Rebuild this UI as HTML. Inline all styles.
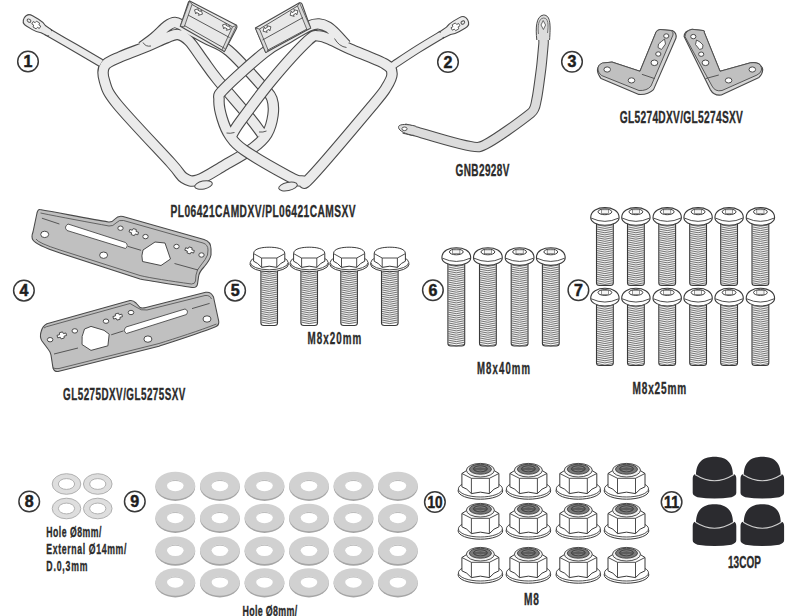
<!DOCTYPE html>
<html><head><meta charset="utf-8">
<style>
html,body{margin:0;padding:0;background:#fff;width:800px;height:616px;overflow:hidden}
svg{display:block}
.lb{font-family:"Liberation Sans",sans-serif;font-weight:bold;fill:#2b2b2b;stroke:#2b2b2b;stroke-width:0.35}
.num{font-family:"Liberation Sans",sans-serif;font-weight:bold;fill:#1e1e1e;stroke:#1e1e1e;stroke-width:0.5;font-size:16px;text-anchor:middle}
.cir{fill:#fff;stroke:#3a3a3a;stroke-width:1.5}
</style></head><body>
<svg width="800" height="616" viewBox="0 0 800 616">
<path d="M46.0,31.0 C50.8,33.8 65.8,42.5 75.0,47.8 C84.2,53.1 96.7,60.5 101.0,63.0" fill="none" stroke="#4a4a4a" stroke-width="8.5" stroke-linecap="butt" stroke-linejoin="round"/>
<path d="M142.0,47.0 C144.2,45.3 150.8,40.5 155.0,37.0 C159.2,33.5 163.7,28.4 167.0,26.0 C170.3,23.6 172.2,22.4 175.0,22.5 C177.8,22.6 179.0,23.9 184.0,26.5 C189.0,29.1 197.5,33.9 205.0,38.0 C212.5,42.1 219.2,42.7 229.0,51.0 C238.8,59.3 256.8,80.0 264.0,88.0 C271.2,96.0 270.5,94.5 272.0,99.0 C273.5,103.5 273.8,109.2 273.0,115.0 C272.2,120.8 270.3,128.5 267.0,134.0 C263.7,139.5 260.0,142.8 253.0,148.0 C246.0,153.2 234.2,159.7 225.0,165.0 C215.8,170.3 204.8,177.8 198.0,180.0 C191.2,182.2 188.5,180.8 184.0,178.0 C179.5,175.2 182.2,175.3 171.0,163.0 C159.8,150.7 128.1,117.7 117.0,104.0 C105.9,90.3 106.5,87.4 104.5,81.0 C102.5,74.6 102.2,69.6 105.0,65.5 C107.8,61.4 113.8,59.8 121.0,56.5 C128.2,53.2 140.5,49.1 148.0,46.0 C155.5,42.9 161.0,39.9 166.0,38.0 C171.0,36.1 174.2,34.0 178.0,34.5 C181.8,35.0 184.8,36.8 189.0,41.0 C193.2,45.2 198.3,53.7 203.0,60.0 C207.7,66.3 209.2,69.3 217.0,79.0 C224.8,88.7 242.5,108.8 250.0,118.0 C257.5,127.2 260.0,131.3 262.0,134.0" fill="none" stroke="#4a4a4a" stroke-width="11.5" stroke-linecap="butt" stroke-linejoin="round"/>
<path d="M46.0,31.0 C50.8,33.8 65.8,42.5 75.0,47.8 C84.2,53.1 96.7,60.5 101.0,63.0" fill="none" stroke="#ebebeb" stroke-width="6.3" stroke-linecap="butt" stroke-linejoin="round"/>
<path d="M142.0,47.0 C144.2,45.3 150.8,40.5 155.0,37.0 C159.2,33.5 163.7,28.4 167.0,26.0 C170.3,23.6 172.2,22.4 175.0,22.5 C177.8,22.6 179.0,23.9 184.0,26.5 C189.0,29.1 197.5,33.9 205.0,38.0 C212.5,42.1 219.2,42.7 229.0,51.0 C238.8,59.3 256.8,80.0 264.0,88.0 C271.2,96.0 270.5,94.5 272.0,99.0 C273.5,103.5 273.8,109.2 273.0,115.0 C272.2,120.8 270.3,128.5 267.0,134.0 C263.7,139.5 260.0,142.8 253.0,148.0 C246.0,153.2 234.2,159.7 225.0,165.0 C215.8,170.3 204.8,177.8 198.0,180.0 C191.2,182.2 188.5,180.8 184.0,178.0 C179.5,175.2 182.2,175.3 171.0,163.0 C159.8,150.7 128.1,117.7 117.0,104.0 C105.9,90.3 106.5,87.4 104.5,81.0 C102.5,74.6 102.2,69.6 105.0,65.5 C107.8,61.4 113.8,59.8 121.0,56.5 C128.2,53.2 140.5,49.1 148.0,46.0 C155.5,42.9 161.0,39.9 166.0,38.0 C171.0,36.1 174.2,34.0 178.0,34.5 C181.8,35.0 184.8,36.8 189.0,41.0 C193.2,45.2 198.3,53.7 203.0,60.0 C207.7,66.3 209.2,69.3 217.0,79.0 C224.8,88.7 242.5,108.8 250.0,118.0 C257.5,127.2 260.0,131.3 262.0,134.0" fill="none" stroke="#ebebeb" stroke-width="9.3" stroke-linecap="butt" stroke-linejoin="round"/>
<g transform="translate(36.3,25) rotate(211)"><path d="M-16,-3.6 L-8,-4.2 Q-4,-6 1,-6 L8,-6 Q14,-6 14,0 Q14,6 8,6 L1,6 Q-4,6 -8,4.2 L-16,3.6 Z" fill="#ebebeb" stroke="#4a4a4a" stroke-width="1.1" stroke-linejoin="round"/><path d="M-17,-2.5 L-7,-2.5 L-7,2.5 L-17,2.5 Z" fill="#ebebeb"/><ellipse cx="8.5" cy="0" rx="2" ry="1.5" fill="none" stroke="#4a4a4a" stroke-width="0.9"/><path d="M-1.8,-3.4 L1.8,-3.4 L2.2,-1.4 L4.4,-1.4 L4.4,1.4 L2.2,1.4 L1.8,3.4 L-1.8,3.4 L-2.2,1.4 L-4.4,1.4 L-4.4,-1.4 L-2.2,-1.4 Z" fill="#fff" stroke="#4a4a4a" stroke-width="0.8" stroke-linejoin="round"/></g>
<ellipse cx="203.5" cy="185" rx="9" ry="4" transform="rotate(-12 203.5 185)" fill="#ebebeb" stroke="#4a4a4a" stroke-width="1"/>
<path d="M189.7,0.9 L236.6,25.3 Q237.5,27 236.5,28.5 L224.4,51.6 L180.3,26.3 L188.5,2 Z" fill="#e8e8e8" stroke="#4a4a4a" stroke-width="1.1" stroke-linejoin="round"/>
<path d="M189.7,0.9 L180.3,26.3 L184.3,26.8 L192,4.5 Z" fill="#d9d9d9" stroke="#4a4a4a" stroke-width="0.8" stroke-linejoin="round"/>
<path d="M236.6,25.3 L224.4,51.6 L222,49.8 L232.5,26.8 Z" fill="#d9d9d9" stroke="#4a4a4a" stroke-width="0.8" stroke-linejoin="round"/>
<path d="M192,4.5 L232.5,26.8 M188,15 L229.5,37.5 M184.3,25.5 L224.8,48.5" fill="none" stroke="#4a4a4a" stroke-width="0.9"/>
<path d="M392.0,66.0 C396.3,63.2 409.7,54.2 418.0,49.0 C426.3,43.8 438.0,36.9 442.0,34.5" fill="none" stroke="#4a4a4a" stroke-width="8.5" stroke-linecap="butt" stroke-linejoin="round"/>
<path d="M346.0,45.0 C344.5,43.3 340.0,38.0 337.0,35.0 C334.0,32.0 331.0,28.8 328.0,27.0 C325.0,25.2 322.2,24.2 319.0,24.0 C315.8,23.8 314.2,23.7 309.0,26.0 C303.8,28.3 295.5,33.5 288.0,38.0 C280.5,42.5 274.7,44.5 264.0,53.0 C253.3,61.5 231.5,81.2 224.0,89.0 C216.5,96.8 219.3,95.2 219.0,100.0 C218.7,104.8 220.2,112.0 222.0,118.0 C223.8,124.0 226.3,130.7 230.0,136.0 C233.7,141.3 234.3,143.3 244.0,150.0 C253.7,156.7 278.3,170.8 288.0,176.0 C297.7,181.2 298.0,181.0 302.0,181.0 C306.0,181.0 300.3,188.5 312.0,176.0 C323.7,163.5 359.7,120.7 372.0,106.0 C384.3,91.3 382.7,93.3 386.0,88.0 C389.3,82.7 392.2,78.0 392.0,74.0 C391.8,70.0 392.0,68.2 385.0,64.0 C378.0,59.8 359.0,53.0 350.0,49.0 C341.0,45.0 336.2,42.2 331.0,40.0 C325.8,37.8 322.8,35.9 319.0,36.0 C315.2,36.1 315.8,33.2 308.0,40.5 C300.2,47.8 283.3,66.4 272.0,80.0 C260.7,93.6 246.7,112.8 240.0,122.0 C233.3,131.2 233.3,132.8 232.0,135.0" fill="none" stroke="#4a4a4a" stroke-width="11.5" stroke-linecap="butt" stroke-linejoin="round"/>
<path d="M392.0,66.0 C396.3,63.2 409.7,54.2 418.0,49.0 C426.3,43.8 438.0,36.9 442.0,34.5" fill="none" stroke="#ebebeb" stroke-width="6.3" stroke-linecap="butt" stroke-linejoin="round"/>
<path d="M346.0,45.0 C344.5,43.3 340.0,38.0 337.0,35.0 C334.0,32.0 331.0,28.8 328.0,27.0 C325.0,25.2 322.2,24.2 319.0,24.0 C315.8,23.8 314.2,23.7 309.0,26.0 C303.8,28.3 295.5,33.5 288.0,38.0 C280.5,42.5 274.7,44.5 264.0,53.0 C253.3,61.5 231.5,81.2 224.0,89.0 C216.5,96.8 219.3,95.2 219.0,100.0 C218.7,104.8 220.2,112.0 222.0,118.0 C223.8,124.0 226.3,130.7 230.0,136.0 C233.7,141.3 234.3,143.3 244.0,150.0 C253.7,156.7 278.3,170.8 288.0,176.0 C297.7,181.2 298.0,181.0 302.0,181.0 C306.0,181.0 300.3,188.5 312.0,176.0 C323.7,163.5 359.7,120.7 372.0,106.0 C384.3,91.3 382.7,93.3 386.0,88.0 C389.3,82.7 392.2,78.0 392.0,74.0 C391.8,70.0 392.0,68.2 385.0,64.0 C378.0,59.8 359.0,53.0 350.0,49.0 C341.0,45.0 336.2,42.2 331.0,40.0 C325.8,37.8 322.8,35.9 319.0,36.0 C315.2,36.1 315.8,33.2 308.0,40.5 C300.2,47.8 283.3,66.4 272.0,80.0 C260.7,93.6 246.7,112.8 240.0,122.0 C233.3,131.2 233.3,132.8 232.0,135.0" fill="none" stroke="#ebebeb" stroke-width="9.3" stroke-linecap="butt" stroke-linejoin="round"/>
<path d="M143,42.5 Q145.5,47 151,46 M334.5,38.5 Q339,46.5 346.5,47.5 M226.5,133 Q230,133.8 234.5,132.5 M259,132 Q263,132.5 266.5,131" fill="none" stroke="#4a4a4a" stroke-width="0.9"/>
<g transform="translate(455.5,26.8) rotate(-30)"><path d="M-16,-3.6 L-8,-4.2 Q-4,-6 1,-6 L8,-6 Q14,-6 14,0 Q14,6 8,6 L1,6 Q-4,6 -8,4.2 L-16,3.6 Z" fill="#ebebeb" stroke="#4a4a4a" stroke-width="1.1" stroke-linejoin="round"/><path d="M-17,-2.5 L-7,-2.5 L-7,2.5 L-17,2.5 Z" fill="#ebebeb"/><ellipse cx="8.5" cy="0" rx="2" ry="1.5" fill="none" stroke="#4a4a4a" stroke-width="0.9"/><path d="M-1.8,-3.4 L1.8,-3.4 L2.2,-1.4 L4.4,-1.4 L4.4,1.4 L2.2,1.4 L1.8,3.4 L-1.8,3.4 L-2.2,1.4 L-4.4,1.4 L-4.4,-1.4 L-2.2,-1.4 Z" fill="#fff" stroke="#4a4a4a" stroke-width="0.8" stroke-linejoin="round"/></g>
<ellipse cx="288" cy="186.5" rx="9.5" ry="4" transform="rotate(-12 288 186.5)" fill="#ebebeb" stroke="#4a4a4a" stroke-width="1"/>
<path d="M255.4,28.1 L299.5,2.8 Q301,2.5 302,4 L310.7,28.1 L265.7,52.5 Z" fill="#e8e8e8" stroke="#4a4a4a" stroke-width="1.1" stroke-linejoin="round"/>
<path d="M255.4,28.1 L265.7,52.5 L268.5,51 L259.5,29 Z" fill="#d9d9d9" stroke="#4a4a4a" stroke-width="0.8" stroke-linejoin="round"/>
<path d="M299.5,2.8 L310.7,28.1 L307,29.8 L297.5,6 Z" fill="#d9d9d9" stroke="#4a4a4a" stroke-width="0.8" stroke-linejoin="round"/>
<path d="M259.5,29 L297.5,6 M262.5,40 L303,17.5 M267,50.5 L307,29" fill="none" stroke="#4a4a4a" stroke-width="0.9"/>
<path transform="translate(198.5,12) rotate(28) scale(1.0)" d="M-4.5,0 L-1.5,-3 L-1.5,-1.3 L1.5,-1.3 L1.5,-3 L4.5,0 L1.5,3 L1.5,1.3 L-1.5,1.3 L-1.5,3 Z" fill="#fff" stroke="#4a4a4a" stroke-width="0.8" stroke-linejoin="round"/>
<path transform="translate(226.5,27) rotate(28) scale(1.0)" d="M-4.5,0 L-1.5,-3 L-1.5,-1.3 L1.5,-1.3 L1.5,-3 L4.5,0 L1.5,3 L1.5,1.3 L-1.5,1.3 L-1.5,3 Z" fill="#fff" stroke="#4a4a4a" stroke-width="0.8" stroke-linejoin="round"/>
<path transform="translate(267,29) rotate(-30) scale(1.0)" d="M-4.5,0 L-1.5,-3 L-1.5,-1.3 L1.5,-1.3 L1.5,-3 L4.5,0 L1.5,3 L1.5,1.3 L-1.5,1.3 L-1.5,3 Z" fill="#fff" stroke="#4a4a4a" stroke-width="0.8" stroke-linejoin="round"/>
<path transform="translate(294,13) rotate(-30) scale(1.0)" d="M-4.5,0 L-1.5,-3 L-1.5,-1.3 L1.5,-1.3 L1.5,-3 L4.5,0 L1.5,3 L1.5,1.3 L-1.5,1.3 L-1.5,3 Z" fill="#fff" stroke="#4a4a4a" stroke-width="0.8" stroke-linejoin="round"/>
<path d="M404.0,128.5 C405.0,128.8 409.8,130.0 416.0,131.5 C422.2,133.0 469.4,148.5 479.0,147.0 C488.6,145.5 526.2,116.9 531.0,113.0 C535.8,109.1 535.6,103.8 536.5,100.0 C537.4,96.2 540.6,72.7 541.2,68.0 C541.8,63.3 543.3,46.3 543.5,44.0 C543.7,41.7 543.5,40.3 543.5,40.0" fill="none" stroke="#4a4a4a" stroke-width="10.5" stroke-linejoin="round"/>
<path d="M404.0,128.5 C405.0,128.8 409.8,130.0 416.0,131.5 C422.2,133.0 469.4,148.5 479.0,147.0 C488.6,145.5 526.2,116.9 531.0,113.0 C535.8,109.1 535.6,103.8 536.5,100.0 C537.4,96.2 540.6,72.7 541.2,68.0 C541.8,63.3 543.3,46.3 543.5,44.0 C543.7,41.7 543.5,40.3 543.5,40.0" fill="none" stroke="#dcdcdc" stroke-width="8.4" stroke-linejoin="round"/>
<path d="M536.8,40 C535.5,28 536,16 543.5,15 C551,15 550.5,26 549.6,40 Z" fill="#dcdcdc"/>
<path d="M536.8,40 C535.5,28 536,16 543.5,15 C551,15 550.5,26 549.6,40" fill="none" stroke="#4a4a4a" stroke-width="1"/>
<path d="M538.5,34 C537.5,26 538.5,18.5 543.5,18 C548.5,18 548.5,25 547.5,33" fill="none" stroke="#4a4a4a" stroke-width="0.7"/>
<path d="M543.2,20.5 L545.6,25 L543.4,29.5 L541,25 Z" fill="#fff" stroke="#4a4a4a" stroke-width="0.8"/>
<path d="M416,126.3 C406,123.5 398,124 398.5,127.5 C399,131 406,134.5 414.5,135.5 Z" fill="#dcdcdc"/>
<path d="M416,126.3 C406,123.5 398,124 398.5,127.5 C399,131 406,134.5 414.5,135.5" fill="none" stroke="#4a4a4a" stroke-width="1"/>
<ellipse cx="404.5" cy="128.8" rx="2.6" ry="1.8" fill="#fff" stroke="#4a4a4a" stroke-width="0.9"/>
<path d="M602.3,63.4 Q598,65 597.4,70 Q597.5,74 601.1,78.6 L638.8,94.4 Q648,95 653.5,89.6 L676,38 Q677,33 672.3,30.5 L660,29.5 Q657,30 656,32.3 L640,71.3 L612,62.1 Z" fill="#d6d6d6" stroke="#4a4a4a" stroke-width="1.1" stroke-linejoin="round"/>
<path d="M602.3,63 Q597.5,65 598,70 Q598.5,73 601.5,75.5 L639,90.5 Q647,91 651,86 L673,35 Q674,32 671,30.5 L660,29.5 Q657,30 656,32.3 L640,71.3 L612,62.1 Z" fill="#c0c0c0" stroke="#4a4a4a" stroke-width="0.9" stroke-linejoin="round"/>
<path d="M641.9,74.3 L654.7,78.6" stroke="#4a4a4a" stroke-width="0.9"/>
<ellipse cx="607.2" cy="69.5" rx="3.3" ry="2.6" fill="#fff" stroke="#4a4a4a" stroke-width="1"/>
<ellipse cx="631.5" cy="80.4" rx="3.3" ry="2.6" fill="#fff" stroke="#4a4a4a" stroke-width="1"/>
<ellipse cx="654.4" cy="62.8" rx="3.4" ry="2.8" fill="#fff" stroke="#4a4a4a" stroke-width="1"/>
<ellipse cx="658.3" cy="54" rx="2.6" ry="2.2" fill="#fff" stroke="#4a4a4a" stroke-width="1"/>
<ellipse cx="666.3" cy="36" rx="2.6" ry="2.2" fill="#fff" stroke="#4a4a4a" stroke-width="1"/>
<path d="M664.5,39 L665.5,44 L661.5,49.5 L658,47.5 L658.5,44 L661.5,41.5 Z" fill="#fff" stroke="#4a4a4a" stroke-width="0.9"/>
<path d="M684.1,36.6 Q684,31 692,29.3 L703,30.5 Q705,31 704.2,32.3 L720,71.3 L750.5,62.8 Q758,62 760.3,65.2 Q763,68 762.7,70 Q762.5,74 759,77.4 L721.3,95 Q714,96 710.3,89.6 Z" fill="#d6d6d6" stroke="#4a4a4a" stroke-width="1.1" stroke-linejoin="round"/>
<path d="M685,36.6 Q685,31 692,29.3 L703,30.5 Q705,31 704.2,32.3 L720,71.3 L750.5,62.8 Q758,62 760.3,65.2 Q762,68 761.5,70 Q761,73 757,75 L722,90.5 Q715,92 712,86 Z" fill="#c0c0c0" stroke="#4a4a4a" stroke-width="0.9" stroke-linejoin="round"/>
<path d="M705.5,78.6 L718.8,75" stroke="#4a4a4a" stroke-width="0.9"/>
<ellipse cx="693.3" cy="36.6" rx="2.6" ry="2.2" fill="#fff" stroke="#4a4a4a" stroke-width="1"/>
<ellipse cx="701.2" cy="54.2" rx="2.6" ry="2.2" fill="#fff" stroke="#4a4a4a" stroke-width="1"/>
<ellipse cx="705.5" cy="62.8" rx="3.4" ry="2.8" fill="#fff" stroke="#4a4a4a" stroke-width="1"/>
<ellipse cx="728.6" cy="80.4" rx="3.3" ry="2.6" fill="#fff" stroke="#4a4a4a" stroke-width="1"/>
<ellipse cx="752.3" cy="69.5" rx="3.3" ry="2.6" fill="#fff" stroke="#4a4a4a" stroke-width="1"/>
<path d="M696.5,40 L700,42 L703,45 L702.5,48.5 L699.5,49.5 L695.5,44.5 Z" fill="#fff" stroke="#4a4a4a" stroke-width="0.9"/>
<path d="M40,209.5 C60,213 90,219 108.5,222 Q112,222.5 115,219 Q118,215.5 123,216.5 L204,239.5 Q211,241.5 211,249 L211,255 Q210,260 204,267 Q199,272 198.5,277 L197.5,284 Q197,288 192,287.5 C170,284 150,281 140,279 L60,253 Q36,245 33,240 Q31,237 33,232 L37,213 Q38,209 40,209.5 Z" fill="#c0c0c0" stroke="#4a4a4a" stroke-width="1.1" stroke-linejoin="round"/>
<path d="M40.5,213 C60,217 90,222.5 109,226 Q113,226.5 116,223 Q119,219.5 123.5,220.5 L203,243 Q208,244.5 208,250 L207.5,255 Q206,259 201,265 Q196.5,270 196,275 L195.5,281 Q195,284 191.5,284 C170,281 150,278 140,275.5 L60,250 Q38,243 36,239" fill="none" stroke="#4a4a4a" stroke-width="0.8"/>
<path d="M41.9,218.2 L59.4,224 M174.5,263.5 L198,270 M128,246.4 L141,250.3" stroke="#4a4a4a" stroke-width="0.9"/>
<path d="M68,224 L125.5,242.5 Q129,245.5 125.5,248.5 L67,230.5 Q63.5,227 68,224 Z" fill="#fff" stroke="#4a4a4a" stroke-width="0.9"/>
<ellipse cx="44.7" cy="234.4" rx="4" ry="3.2" fill="#fff" stroke="#4a4a4a" stroke-width="1"/>
<ellipse cx="103.6" cy="255.2" rx="4" ry="3.2" fill="#fff" stroke="#4a4a4a" stroke-width="1"/>
<ellipse cx="120.5" cy="228.2" rx="2.7" ry="2.2" fill="#fff" stroke="#4a4a4a" stroke-width="1"/>
<ellipse cx="145.5" cy="236.6" rx="2.7" ry="2.2" fill="#fff" stroke="#4a4a4a" stroke-width="1"/>
<ellipse cx="176.5" cy="246.5" rx="2.7" ry="2.2" fill="#fff" stroke="#4a4a4a" stroke-width="1"/>
<ellipse cx="201.5" cy="255" rx="2.7" ry="2.2" fill="#fff" stroke="#4a4a4a" stroke-width="1"/>
<path transform="translate(133.8,232.1) rotate(18)" d="M-1.6,-3.2 L1.6,-3.2 L2,-1.3 L4.6,-1.3 L4.6,1.3 L2,1.3 L1.6,3.2 L-1.6,3.2 L-2,1.3 L-4.6,1.3 L-4.6,-1.3 L-2,-1.3 Z" fill="#fff" stroke="#4a4a4a" stroke-width="0.9" stroke-linejoin="round"/>
<path transform="translate(189.6,250.4) rotate(18)" d="M-1.6,-3.2 L1.6,-3.2 L2,-1.3 L4.6,-1.3 L4.6,1.3 L2,1.3 L1.6,3.2 L-1.6,3.2 L-2,1.3 L-4.6,1.3 L-4.6,-1.3 L-2,-1.3 Z" fill="#fff" stroke="#4a4a4a" stroke-width="0.9" stroke-linejoin="round"/>
<path d="M143,250 L155,242 L165,243 L170.5,259 L161,265.5 L142.5,261.5 Q141,256 143,250 Z" fill="#fff" stroke="#4a4a4a" stroke-width="1" stroke-linejoin="round"/>
<path d="M46.9,323.8 L130,300.5 Q133,300 136,303 L140,307.5 Q142,308.5 146,307.5 L205.7,292.3 Q211,291.5 213.5,297 L218.7,321 Q219.5,325.5 215,327 C200,333 175,341 159,346.2 L58,371.5 Q54.5,372 53,368 L51,355 Q50.5,352 48,349 L42,341 Q39.5,337 41,332 Q42.5,326 46.9,323.8 Z" fill="#c0c0c0" stroke="#4a4a4a" stroke-width="1.1" stroke-linejoin="round"/>
<path d="M44,328 Q46,326.5 49,326 L130,303.5 L136,307 Q141,311 147,310 L205,295.5 Q210,295 211.5,299" fill="none" stroke="#4a4a4a" stroke-width="0.8"/>
<path d="M53,368 Q56,369 59,368.5 L159,343.5 C175,338.5 200,330.5 216.5,324" fill="none" stroke="#4a4a4a" stroke-width="0.8"/>
<path d="M54,354 L78,348 M111.2,334.8 L123.5,330.9 M192,308.6 L209.6,303.4" stroke="#4a4a4a" stroke-width="0.9"/>
<path d="M126,327 L185,309 Q189,310.5 186.5,314.5 L126.5,333.5 Q122.5,331 126,327 Z" fill="#fff" stroke="#4a4a4a" stroke-width="0.9"/>
<ellipse cx="147.9" cy="339.1" rx="4" ry="3.2" fill="#fff" stroke="#4a4a4a" stroke-width="1"/>
<ellipse cx="207" cy="319" rx="4" ry="3.2" fill="#fff" stroke="#4a4a4a" stroke-width="1"/>
<ellipse cx="50.1" cy="339.7" rx="2.8" ry="2.2" fill="#fff" stroke="#4a4a4a" stroke-width="1"/>
<ellipse cx="74.8" cy="330.9" rx="2.8" ry="2.2" fill="#fff" stroke="#4a4a4a" stroke-width="1"/>
<ellipse cx="106" cy="321.2" rx="2.8" ry="2.2" fill="#fff" stroke="#4a4a4a" stroke-width="1"/>
<ellipse cx="131" cy="312.5" rx="2.8" ry="2.2" fill="#fff" stroke="#4a4a4a" stroke-width="1"/>
<path transform="translate(61.8,335.4) rotate(-15)" d="M-1.6,-3.2 L1.6,-3.2 L2,-1.3 L4.6,-1.3 L4.6,1.3 L2,1.3 L1.6,3.2 L-1.6,3.2 L-2,1.3 L-4.6,1.3 L-4.6,-1.3 L-2,-1.3 Z" fill="#fff" stroke="#4a4a4a" stroke-width="0.9" stroke-linejoin="round"/>
<path transform="translate(117.7,316.6) rotate(-15)" d="M-1.6,-3.2 L1.6,-3.2 L2,-1.3 L4.6,-1.3 L4.6,1.3 L2,1.3 L1.6,3.2 L-1.6,3.2 L-2,1.3 L-4.6,1.3 L-4.6,-1.3 L-2,-1.3 Z" fill="#fff" stroke="#4a4a4a" stroke-width="0.9" stroke-linejoin="round"/>
<path d="M84.5,329 L91,326.4 L104,330.3 L109.2,334.2 L107.9,345.8 L91,350.4 L82,344.5 Q81,336 84.5,329 Z" fill="#fff" stroke="#4a4a4a" stroke-width="1" stroke-linejoin="round"/>
<ellipse cx="66.5" cy="484" rx="14.3" ry="10.3" fill="#dedede" stroke="#a9a9a9" stroke-width="0.9"/>
<ellipse cx="66.5" cy="484" rx="8.1" ry="5.4" fill="#fff" stroke="#a9a9a9" stroke-width="0.9"/>
<ellipse cx="66.5" cy="508.5" rx="14.3" ry="10.3" fill="#dedede" stroke="#a9a9a9" stroke-width="0.9"/>
<ellipse cx="66.5" cy="508.5" rx="8.1" ry="5.4" fill="#fff" stroke="#a9a9a9" stroke-width="0.9"/>
<ellipse cx="97.75" cy="484" rx="14.3" ry="10.3" fill="#dedede" stroke="#a9a9a9" stroke-width="0.9"/>
<ellipse cx="97.75" cy="484" rx="8.1" ry="5.4" fill="#fff" stroke="#a9a9a9" stroke-width="0.9"/>
<ellipse cx="97.75" cy="508.5" rx="14.3" ry="10.3" fill="#dedede" stroke="#a9a9a9" stroke-width="0.9"/>
<ellipse cx="97.75" cy="508.5" rx="8.1" ry="5.4" fill="#fff" stroke="#a9a9a9" stroke-width="0.9"/>
<ellipse cx="175.3" cy="486.8" rx="19.9" ry="14.1" fill="#a6a6a6"/>
<ellipse cx="175.3" cy="485.5" rx="19.9" ry="13.8" fill="#d1d1d1"/>
<ellipse cx="175.3" cy="485.5" rx="8.3" ry="5.8" fill="#fff"/>
<path d="M167.0,485.5 A8.3,5.8 0 0 1 183.60000000000002,485.5 A8.3,4.6 0 0 0 167.0,485.5Z" fill="#bdbdbd"/>
<ellipse cx="219.9" cy="486.8" rx="19.9" ry="14.1" fill="#a6a6a6"/>
<ellipse cx="219.9" cy="485.5" rx="19.9" ry="13.8" fill="#d1d1d1"/>
<ellipse cx="219.9" cy="485.5" rx="8.3" ry="5.8" fill="#fff"/>
<path d="M211.6,485.5 A8.3,5.8 0 0 1 228.20000000000002,485.5 A8.3,4.6 0 0 0 211.6,485.5Z" fill="#bdbdbd"/>
<ellipse cx="264.5" cy="486.8" rx="19.9" ry="14.1" fill="#a6a6a6"/>
<ellipse cx="264.5" cy="485.5" rx="19.9" ry="13.8" fill="#d1d1d1"/>
<ellipse cx="264.5" cy="485.5" rx="8.3" ry="5.8" fill="#fff"/>
<path d="M256.2,485.5 A8.3,5.8 0 0 1 272.8,485.5 A8.3,4.6 0 0 0 256.2,485.5Z" fill="#bdbdbd"/>
<ellipse cx="309.0" cy="486.8" rx="19.9" ry="14.1" fill="#a6a6a6"/>
<ellipse cx="309.0" cy="485.5" rx="19.9" ry="13.8" fill="#d1d1d1"/>
<ellipse cx="309.0" cy="485.5" rx="8.3" ry="5.8" fill="#fff"/>
<path d="M300.7,485.5 A8.3,5.8 0 0 1 317.3,485.5 A8.3,4.6 0 0 0 300.7,485.5Z" fill="#bdbdbd"/>
<ellipse cx="353.5" cy="486.8" rx="19.9" ry="14.1" fill="#a6a6a6"/>
<ellipse cx="353.5" cy="485.5" rx="19.9" ry="13.8" fill="#d1d1d1"/>
<ellipse cx="353.5" cy="485.5" rx="8.3" ry="5.8" fill="#fff"/>
<path d="M345.2,485.5 A8.3,5.8 0 0 1 361.8,485.5 A8.3,4.6 0 0 0 345.2,485.5Z" fill="#bdbdbd"/>
<ellipse cx="397.9" cy="486.8" rx="19.9" ry="14.1" fill="#a6a6a6"/>
<ellipse cx="397.9" cy="485.5" rx="19.9" ry="13.8" fill="#d1d1d1"/>
<ellipse cx="397.9" cy="485.5" rx="8.3" ry="5.8" fill="#fff"/>
<path d="M389.59999999999997,485.5 A8.3,5.8 0 0 1 406.2,485.5 A8.3,4.6 0 0 0 389.59999999999997,485.5Z" fill="#bdbdbd"/>
<ellipse cx="175.3" cy="518.8" rx="19.9" ry="14.1" fill="#a6a6a6"/>
<ellipse cx="175.3" cy="517.5" rx="19.9" ry="13.8" fill="#d1d1d1"/>
<ellipse cx="175.3" cy="517.5" rx="8.3" ry="5.8" fill="#fff"/>
<path d="M167.0,517.5 A8.3,5.8 0 0 1 183.60000000000002,517.5 A8.3,4.6 0 0 0 167.0,517.5Z" fill="#bdbdbd"/>
<ellipse cx="219.9" cy="518.8" rx="19.9" ry="14.1" fill="#a6a6a6"/>
<ellipse cx="219.9" cy="517.5" rx="19.9" ry="13.8" fill="#d1d1d1"/>
<ellipse cx="219.9" cy="517.5" rx="8.3" ry="5.8" fill="#fff"/>
<path d="M211.6,517.5 A8.3,5.8 0 0 1 228.20000000000002,517.5 A8.3,4.6 0 0 0 211.6,517.5Z" fill="#bdbdbd"/>
<ellipse cx="264.5" cy="518.8" rx="19.9" ry="14.1" fill="#a6a6a6"/>
<ellipse cx="264.5" cy="517.5" rx="19.9" ry="13.8" fill="#d1d1d1"/>
<ellipse cx="264.5" cy="517.5" rx="8.3" ry="5.8" fill="#fff"/>
<path d="M256.2,517.5 A8.3,5.8 0 0 1 272.8,517.5 A8.3,4.6 0 0 0 256.2,517.5Z" fill="#bdbdbd"/>
<ellipse cx="309.0" cy="518.8" rx="19.9" ry="14.1" fill="#a6a6a6"/>
<ellipse cx="309.0" cy="517.5" rx="19.9" ry="13.8" fill="#d1d1d1"/>
<ellipse cx="309.0" cy="517.5" rx="8.3" ry="5.8" fill="#fff"/>
<path d="M300.7,517.5 A8.3,5.8 0 0 1 317.3,517.5 A8.3,4.6 0 0 0 300.7,517.5Z" fill="#bdbdbd"/>
<ellipse cx="353.5" cy="518.8" rx="19.9" ry="14.1" fill="#a6a6a6"/>
<ellipse cx="353.5" cy="517.5" rx="19.9" ry="13.8" fill="#d1d1d1"/>
<ellipse cx="353.5" cy="517.5" rx="8.3" ry="5.8" fill="#fff"/>
<path d="M345.2,517.5 A8.3,5.8 0 0 1 361.8,517.5 A8.3,4.6 0 0 0 345.2,517.5Z" fill="#bdbdbd"/>
<ellipse cx="397.9" cy="518.8" rx="19.9" ry="14.1" fill="#a6a6a6"/>
<ellipse cx="397.9" cy="517.5" rx="19.9" ry="13.8" fill="#d1d1d1"/>
<ellipse cx="397.9" cy="517.5" rx="8.3" ry="5.8" fill="#fff"/>
<path d="M389.59999999999997,517.5 A8.3,5.8 0 0 1 406.2,517.5 A8.3,4.6 0 0 0 389.59999999999997,517.5Z" fill="#bdbdbd"/>
<ellipse cx="175.3" cy="551.5999999999999" rx="19.9" ry="14.1" fill="#a6a6a6"/>
<ellipse cx="175.3" cy="550.3" rx="19.9" ry="13.8" fill="#d1d1d1"/>
<ellipse cx="175.3" cy="550.3" rx="8.3" ry="5.8" fill="#fff"/>
<path d="M167.0,550.3 A8.3,5.8 0 0 1 183.60000000000002,550.3 A8.3,4.6 0 0 0 167.0,550.3Z" fill="#bdbdbd"/>
<ellipse cx="219.9" cy="551.5999999999999" rx="19.9" ry="14.1" fill="#a6a6a6"/>
<ellipse cx="219.9" cy="550.3" rx="19.9" ry="13.8" fill="#d1d1d1"/>
<ellipse cx="219.9" cy="550.3" rx="8.3" ry="5.8" fill="#fff"/>
<path d="M211.6,550.3 A8.3,5.8 0 0 1 228.20000000000002,550.3 A8.3,4.6 0 0 0 211.6,550.3Z" fill="#bdbdbd"/>
<ellipse cx="264.5" cy="551.5999999999999" rx="19.9" ry="14.1" fill="#a6a6a6"/>
<ellipse cx="264.5" cy="550.3" rx="19.9" ry="13.8" fill="#d1d1d1"/>
<ellipse cx="264.5" cy="550.3" rx="8.3" ry="5.8" fill="#fff"/>
<path d="M256.2,550.3 A8.3,5.8 0 0 1 272.8,550.3 A8.3,4.6 0 0 0 256.2,550.3Z" fill="#bdbdbd"/>
<ellipse cx="309.0" cy="551.5999999999999" rx="19.9" ry="14.1" fill="#a6a6a6"/>
<ellipse cx="309.0" cy="550.3" rx="19.9" ry="13.8" fill="#d1d1d1"/>
<ellipse cx="309.0" cy="550.3" rx="8.3" ry="5.8" fill="#fff"/>
<path d="M300.7,550.3 A8.3,5.8 0 0 1 317.3,550.3 A8.3,4.6 0 0 0 300.7,550.3Z" fill="#bdbdbd"/>
<ellipse cx="353.5" cy="551.5999999999999" rx="19.9" ry="14.1" fill="#a6a6a6"/>
<ellipse cx="353.5" cy="550.3" rx="19.9" ry="13.8" fill="#d1d1d1"/>
<ellipse cx="353.5" cy="550.3" rx="8.3" ry="5.8" fill="#fff"/>
<path d="M345.2,550.3 A8.3,5.8 0 0 1 361.8,550.3 A8.3,4.6 0 0 0 345.2,550.3Z" fill="#bdbdbd"/>
<ellipse cx="397.9" cy="551.5999999999999" rx="19.9" ry="14.1" fill="#a6a6a6"/>
<ellipse cx="397.9" cy="550.3" rx="19.9" ry="13.8" fill="#d1d1d1"/>
<ellipse cx="397.9" cy="550.3" rx="8.3" ry="5.8" fill="#fff"/>
<path d="M389.59999999999997,550.3 A8.3,5.8 0 0 1 406.2,550.3 A8.3,4.6 0 0 0 389.59999999999997,550.3Z" fill="#bdbdbd"/>
<ellipse cx="175.3" cy="583.3" rx="19.9" ry="14.1" fill="#a6a6a6"/>
<ellipse cx="175.3" cy="582.0" rx="19.9" ry="13.8" fill="#d1d1d1"/>
<ellipse cx="175.3" cy="582.0" rx="8.3" ry="5.8" fill="#fff"/>
<path d="M167.0,582.0 A8.3,5.8 0 0 1 183.60000000000002,582.0 A8.3,4.6 0 0 0 167.0,582.0Z" fill="#bdbdbd"/>
<ellipse cx="219.9" cy="583.3" rx="19.9" ry="14.1" fill="#a6a6a6"/>
<ellipse cx="219.9" cy="582.0" rx="19.9" ry="13.8" fill="#d1d1d1"/>
<ellipse cx="219.9" cy="582.0" rx="8.3" ry="5.8" fill="#fff"/>
<path d="M211.6,582.0 A8.3,5.8 0 0 1 228.20000000000002,582.0 A8.3,4.6 0 0 0 211.6,582.0Z" fill="#bdbdbd"/>
<ellipse cx="264.5" cy="583.3" rx="19.9" ry="14.1" fill="#a6a6a6"/>
<ellipse cx="264.5" cy="582.0" rx="19.9" ry="13.8" fill="#d1d1d1"/>
<ellipse cx="264.5" cy="582.0" rx="8.3" ry="5.8" fill="#fff"/>
<path d="M256.2,582.0 A8.3,5.8 0 0 1 272.8,582.0 A8.3,4.6 0 0 0 256.2,582.0Z" fill="#bdbdbd"/>
<ellipse cx="309.0" cy="583.3" rx="19.9" ry="14.1" fill="#a6a6a6"/>
<ellipse cx="309.0" cy="582.0" rx="19.9" ry="13.8" fill="#d1d1d1"/>
<ellipse cx="309.0" cy="582.0" rx="8.3" ry="5.8" fill="#fff"/>
<path d="M300.7,582.0 A8.3,5.8 0 0 1 317.3,582.0 A8.3,4.6 0 0 0 300.7,582.0Z" fill="#bdbdbd"/>
<ellipse cx="353.5" cy="583.3" rx="19.9" ry="14.1" fill="#a6a6a6"/>
<ellipse cx="353.5" cy="582.0" rx="19.9" ry="13.8" fill="#d1d1d1"/>
<ellipse cx="353.5" cy="582.0" rx="8.3" ry="5.8" fill="#fff"/>
<path d="M345.2,582.0 A8.3,5.8 0 0 1 361.8,582.0 A8.3,4.6 0 0 0 345.2,582.0Z" fill="#bdbdbd"/>
<ellipse cx="397.9" cy="583.3" rx="19.9" ry="14.1" fill="#a6a6a6"/>
<ellipse cx="397.9" cy="582.0" rx="19.9" ry="13.8" fill="#d1d1d1"/>
<ellipse cx="397.9" cy="582.0" rx="8.3" ry="5.8" fill="#fff"/>
<path d="M389.59999999999997,582.0 A8.3,5.8 0 0 1 406.2,582.0 A8.3,4.6 0 0 0 389.59999999999997,582.0Z" fill="#bdbdbd"/>
<ellipse cx="480.4" cy="490.8" rx="22.3" ry="8.4" fill="#fff" stroke="#3a3a3a" stroke-width="1"/>
<ellipse cx="480.4" cy="488.8" rx="22" ry="8.2" fill="#fff" stroke="#3a3a3a" stroke-width="0.9"/>
<path d="M461.9,473.5 L461.9,486.8 Q466.9,488.2 471.4,493.59999999999997 Q480.4,490.7 489.4,493.59999999999997 Q493.9,488.2 498.9,486.8 L498.9,473.5 L490.4,468.2 L470.4,468.2 Z" fill="#fff" stroke="#3a3a3a" stroke-width="1"/>
<path d="M461.9,473.5 L471.4,478.3 L489.4,478.3 L498.9,473.5 M471.4,478.3 L471.4,493.59999999999997 M489.4,478.3 L489.4,493.59999999999997" fill="none" stroke="#3a3a3a" stroke-width="0.9"/>
<ellipse cx="480.4" cy="470.2" rx="14" ry="6.8" fill="#f2f2f2" stroke="#3a3a3a" stroke-width="0.9"/>
<ellipse cx="480.4" cy="469.2" rx="11" ry="5" fill="#7a7a7a" stroke="#3a3a3a" stroke-width="0.9"/>
<ellipse cx="480.4" cy="468.8" rx="7" ry="3" fill="#5c5c5c" stroke="#333" stroke-width="0.7"/>
<path d="M475.4,467.7 Q480.4,465.7 485.4,467.7 M476.4,470.2 Q480.4,471.7 484.4,470.2" fill="none" stroke="#999" stroke-width="0.6"/>
<ellipse cx="528.4" cy="490.8" rx="22.3" ry="8.4" fill="#fff" stroke="#3a3a3a" stroke-width="1"/>
<ellipse cx="528.4" cy="488.8" rx="22" ry="8.2" fill="#fff" stroke="#3a3a3a" stroke-width="0.9"/>
<path d="M509.9,473.5 L509.9,486.8 Q514.9,488.2 519.4,493.59999999999997 Q528.4,490.7 537.4,493.59999999999997 Q541.9,488.2 546.9,486.8 L546.9,473.5 L538.4,468.2 L518.4,468.2 Z" fill="#fff" stroke="#3a3a3a" stroke-width="1"/>
<path d="M509.9,473.5 L519.4,478.3 L537.4,478.3 L546.9,473.5 M519.4,478.3 L519.4,493.59999999999997 M537.4,478.3 L537.4,493.59999999999997" fill="none" stroke="#3a3a3a" stroke-width="0.9"/>
<ellipse cx="528.4" cy="470.2" rx="14" ry="6.8" fill="#f2f2f2" stroke="#3a3a3a" stroke-width="0.9"/>
<ellipse cx="528.4" cy="469.2" rx="11" ry="5" fill="#7a7a7a" stroke="#3a3a3a" stroke-width="0.9"/>
<ellipse cx="528.4" cy="468.8" rx="7" ry="3" fill="#5c5c5c" stroke="#333" stroke-width="0.7"/>
<path d="M523.4,467.7 Q528.4,465.7 533.4,467.7 M524.4,470.2 Q528.4,471.7 532.4,470.2" fill="none" stroke="#999" stroke-width="0.6"/>
<ellipse cx="578.3" cy="490.8" rx="22.3" ry="8.4" fill="#fff" stroke="#3a3a3a" stroke-width="1"/>
<ellipse cx="578.3" cy="488.8" rx="22" ry="8.2" fill="#fff" stroke="#3a3a3a" stroke-width="0.9"/>
<path d="M559.8,473.5 L559.8,486.8 Q564.8,488.2 569.3,493.59999999999997 Q578.3,490.7 587.3,493.59999999999997 Q591.8,488.2 596.8,486.8 L596.8,473.5 L588.3,468.2 L568.3,468.2 Z" fill="#fff" stroke="#3a3a3a" stroke-width="1"/>
<path d="M559.8,473.5 L569.3,478.3 L587.3,478.3 L596.8,473.5 M569.3,478.3 L569.3,493.59999999999997 M587.3,478.3 L587.3,493.59999999999997" fill="none" stroke="#3a3a3a" stroke-width="0.9"/>
<ellipse cx="578.3" cy="470.2" rx="14" ry="6.8" fill="#f2f2f2" stroke="#3a3a3a" stroke-width="0.9"/>
<ellipse cx="578.3" cy="469.2" rx="11" ry="5" fill="#7a7a7a" stroke="#3a3a3a" stroke-width="0.9"/>
<ellipse cx="578.3" cy="468.8" rx="7" ry="3" fill="#5c5c5c" stroke="#333" stroke-width="0.7"/>
<path d="M573.3,467.7 Q578.3,465.7 583.3,467.7 M574.3,470.2 Q578.3,471.7 582.3,470.2" fill="none" stroke="#999" stroke-width="0.6"/>
<ellipse cx="626.5" cy="490.8" rx="22.3" ry="8.4" fill="#fff" stroke="#3a3a3a" stroke-width="1"/>
<ellipse cx="626.5" cy="488.8" rx="22" ry="8.2" fill="#fff" stroke="#3a3a3a" stroke-width="0.9"/>
<path d="M608.0,473.5 L608.0,486.8 Q613.0,488.2 617.5,493.59999999999997 Q626.5,490.7 635.5,493.59999999999997 Q640.0,488.2 645.0,486.8 L645.0,473.5 L636.5,468.2 L616.5,468.2 Z" fill="#fff" stroke="#3a3a3a" stroke-width="1"/>
<path d="M608.0,473.5 L617.5,478.3 L635.5,478.3 L645.0,473.5 M617.5,478.3 L617.5,493.59999999999997 M635.5,478.3 L635.5,493.59999999999997" fill="none" stroke="#3a3a3a" stroke-width="0.9"/>
<ellipse cx="626.5" cy="470.2" rx="14" ry="6.8" fill="#f2f2f2" stroke="#3a3a3a" stroke-width="0.9"/>
<ellipse cx="626.5" cy="469.2" rx="11" ry="5" fill="#7a7a7a" stroke="#3a3a3a" stroke-width="0.9"/>
<ellipse cx="626.5" cy="468.8" rx="7" ry="3" fill="#5c5c5c" stroke="#333" stroke-width="0.7"/>
<path d="M621.5,467.7 Q626.5,465.7 631.5,467.7 M622.5,470.2 Q626.5,471.7 630.5,470.2" fill="none" stroke="#999" stroke-width="0.6"/>
<ellipse cx="480.4" cy="530.8" rx="22.3" ry="8.4" fill="#fff" stroke="#3a3a3a" stroke-width="1"/>
<ellipse cx="480.4" cy="528.8" rx="22" ry="8.2" fill="#fff" stroke="#3a3a3a" stroke-width="0.9"/>
<path d="M461.9,513.5 L461.9,526.8 Q466.9,528.2 471.4,533.6 Q480.4,530.7 489.4,533.6 Q493.9,528.2 498.9,526.8 L498.9,513.5 L490.4,508.2 L470.4,508.2 Z" fill="#fff" stroke="#3a3a3a" stroke-width="1"/>
<path d="M461.9,513.5 L471.4,518.3 L489.4,518.3 L498.9,513.5 M471.4,518.3 L471.4,533.6 M489.4,518.3 L489.4,533.6" fill="none" stroke="#3a3a3a" stroke-width="0.9"/>
<ellipse cx="480.4" cy="510.2" rx="14" ry="6.8" fill="#f2f2f2" stroke="#3a3a3a" stroke-width="0.9"/>
<ellipse cx="480.4" cy="509.2" rx="11" ry="5" fill="#7a7a7a" stroke="#3a3a3a" stroke-width="0.9"/>
<ellipse cx="480.4" cy="508.8" rx="7" ry="3" fill="#5c5c5c" stroke="#333" stroke-width="0.7"/>
<path d="M475.4,507.7 Q480.4,505.7 485.4,507.7 M476.4,510.2 Q480.4,511.7 484.4,510.2" fill="none" stroke="#999" stroke-width="0.6"/>
<ellipse cx="528.4" cy="530.8" rx="22.3" ry="8.4" fill="#fff" stroke="#3a3a3a" stroke-width="1"/>
<ellipse cx="528.4" cy="528.8" rx="22" ry="8.2" fill="#fff" stroke="#3a3a3a" stroke-width="0.9"/>
<path d="M509.9,513.5 L509.9,526.8 Q514.9,528.2 519.4,533.6 Q528.4,530.7 537.4,533.6 Q541.9,528.2 546.9,526.8 L546.9,513.5 L538.4,508.2 L518.4,508.2 Z" fill="#fff" stroke="#3a3a3a" stroke-width="1"/>
<path d="M509.9,513.5 L519.4,518.3 L537.4,518.3 L546.9,513.5 M519.4,518.3 L519.4,533.6 M537.4,518.3 L537.4,533.6" fill="none" stroke="#3a3a3a" stroke-width="0.9"/>
<ellipse cx="528.4" cy="510.2" rx="14" ry="6.8" fill="#f2f2f2" stroke="#3a3a3a" stroke-width="0.9"/>
<ellipse cx="528.4" cy="509.2" rx="11" ry="5" fill="#7a7a7a" stroke="#3a3a3a" stroke-width="0.9"/>
<ellipse cx="528.4" cy="508.8" rx="7" ry="3" fill="#5c5c5c" stroke="#333" stroke-width="0.7"/>
<path d="M523.4,507.7 Q528.4,505.7 533.4,507.7 M524.4,510.2 Q528.4,511.7 532.4,510.2" fill="none" stroke="#999" stroke-width="0.6"/>
<ellipse cx="578.3" cy="530.8" rx="22.3" ry="8.4" fill="#fff" stroke="#3a3a3a" stroke-width="1"/>
<ellipse cx="578.3" cy="528.8" rx="22" ry="8.2" fill="#fff" stroke="#3a3a3a" stroke-width="0.9"/>
<path d="M559.8,513.5 L559.8,526.8 Q564.8,528.2 569.3,533.6 Q578.3,530.7 587.3,533.6 Q591.8,528.2 596.8,526.8 L596.8,513.5 L588.3,508.2 L568.3,508.2 Z" fill="#fff" stroke="#3a3a3a" stroke-width="1"/>
<path d="M559.8,513.5 L569.3,518.3 L587.3,518.3 L596.8,513.5 M569.3,518.3 L569.3,533.6 M587.3,518.3 L587.3,533.6" fill="none" stroke="#3a3a3a" stroke-width="0.9"/>
<ellipse cx="578.3" cy="510.2" rx="14" ry="6.8" fill="#f2f2f2" stroke="#3a3a3a" stroke-width="0.9"/>
<ellipse cx="578.3" cy="509.2" rx="11" ry="5" fill="#7a7a7a" stroke="#3a3a3a" stroke-width="0.9"/>
<ellipse cx="578.3" cy="508.8" rx="7" ry="3" fill="#5c5c5c" stroke="#333" stroke-width="0.7"/>
<path d="M573.3,507.7 Q578.3,505.7 583.3,507.7 M574.3,510.2 Q578.3,511.7 582.3,510.2" fill="none" stroke="#999" stroke-width="0.6"/>
<ellipse cx="626.5" cy="530.8" rx="22.3" ry="8.4" fill="#fff" stroke="#3a3a3a" stroke-width="1"/>
<ellipse cx="626.5" cy="528.8" rx="22" ry="8.2" fill="#fff" stroke="#3a3a3a" stroke-width="0.9"/>
<path d="M608.0,513.5 L608.0,526.8 Q613.0,528.2 617.5,533.6 Q626.5,530.7 635.5,533.6 Q640.0,528.2 645.0,526.8 L645.0,513.5 L636.5,508.2 L616.5,508.2 Z" fill="#fff" stroke="#3a3a3a" stroke-width="1"/>
<path d="M608.0,513.5 L617.5,518.3 L635.5,518.3 L645.0,513.5 M617.5,518.3 L617.5,533.6 M635.5,518.3 L635.5,533.6" fill="none" stroke="#3a3a3a" stroke-width="0.9"/>
<ellipse cx="626.5" cy="510.2" rx="14" ry="6.8" fill="#f2f2f2" stroke="#3a3a3a" stroke-width="0.9"/>
<ellipse cx="626.5" cy="509.2" rx="11" ry="5" fill="#7a7a7a" stroke="#3a3a3a" stroke-width="0.9"/>
<ellipse cx="626.5" cy="508.8" rx="7" ry="3" fill="#5c5c5c" stroke="#333" stroke-width="0.7"/>
<path d="M621.5,507.7 Q626.5,505.7 631.5,507.7 M622.5,510.2 Q626.5,511.7 630.5,510.2" fill="none" stroke="#999" stroke-width="0.6"/>
<ellipse cx="480.4" cy="574.8000000000001" rx="22.3" ry="8.4" fill="#fff" stroke="#3a3a3a" stroke-width="1"/>
<ellipse cx="480.4" cy="572.8000000000001" rx="22" ry="8.2" fill="#fff" stroke="#3a3a3a" stroke-width="0.9"/>
<path d="M461.9,557.5 L461.9,570.8000000000001 Q466.9,572.2 471.4,577.6 Q480.4,574.7 489.4,577.6 Q493.9,572.2 498.9,570.8000000000001 L498.9,557.5 L490.4,552.2 L470.4,552.2 Z" fill="#fff" stroke="#3a3a3a" stroke-width="1"/>
<path d="M461.9,557.5 L471.4,562.3000000000001 L489.4,562.3000000000001 L498.9,557.5 M471.4,562.3000000000001 L471.4,577.6 M489.4,562.3000000000001 L489.4,577.6" fill="none" stroke="#3a3a3a" stroke-width="0.9"/>
<ellipse cx="480.4" cy="554.2" rx="14" ry="6.8" fill="#f2f2f2" stroke="#3a3a3a" stroke-width="0.9"/>
<ellipse cx="480.4" cy="553.2" rx="11" ry="5" fill="#7a7a7a" stroke="#3a3a3a" stroke-width="0.9"/>
<ellipse cx="480.4" cy="552.8000000000001" rx="7" ry="3" fill="#5c5c5c" stroke="#333" stroke-width="0.7"/>
<path d="M475.4,551.7 Q480.4,549.7 485.4,551.7 M476.4,554.2 Q480.4,555.7 484.4,554.2" fill="none" stroke="#999" stroke-width="0.6"/>
<ellipse cx="528.4" cy="574.8000000000001" rx="22.3" ry="8.4" fill="#fff" stroke="#3a3a3a" stroke-width="1"/>
<ellipse cx="528.4" cy="572.8000000000001" rx="22" ry="8.2" fill="#fff" stroke="#3a3a3a" stroke-width="0.9"/>
<path d="M509.9,557.5 L509.9,570.8000000000001 Q514.9,572.2 519.4,577.6 Q528.4,574.7 537.4,577.6 Q541.9,572.2 546.9,570.8000000000001 L546.9,557.5 L538.4,552.2 L518.4,552.2 Z" fill="#fff" stroke="#3a3a3a" stroke-width="1"/>
<path d="M509.9,557.5 L519.4,562.3000000000001 L537.4,562.3000000000001 L546.9,557.5 M519.4,562.3000000000001 L519.4,577.6 M537.4,562.3000000000001 L537.4,577.6" fill="none" stroke="#3a3a3a" stroke-width="0.9"/>
<ellipse cx="528.4" cy="554.2" rx="14" ry="6.8" fill="#f2f2f2" stroke="#3a3a3a" stroke-width="0.9"/>
<ellipse cx="528.4" cy="553.2" rx="11" ry="5" fill="#7a7a7a" stroke="#3a3a3a" stroke-width="0.9"/>
<ellipse cx="528.4" cy="552.8000000000001" rx="7" ry="3" fill="#5c5c5c" stroke="#333" stroke-width="0.7"/>
<path d="M523.4,551.7 Q528.4,549.7 533.4,551.7 M524.4,554.2 Q528.4,555.7 532.4,554.2" fill="none" stroke="#999" stroke-width="0.6"/>
<ellipse cx="578.3" cy="574.8000000000001" rx="22.3" ry="8.4" fill="#fff" stroke="#3a3a3a" stroke-width="1"/>
<ellipse cx="578.3" cy="572.8000000000001" rx="22" ry="8.2" fill="#fff" stroke="#3a3a3a" stroke-width="0.9"/>
<path d="M559.8,557.5 L559.8,570.8000000000001 Q564.8,572.2 569.3,577.6 Q578.3,574.7 587.3,577.6 Q591.8,572.2 596.8,570.8000000000001 L596.8,557.5 L588.3,552.2 L568.3,552.2 Z" fill="#fff" stroke="#3a3a3a" stroke-width="1"/>
<path d="M559.8,557.5 L569.3,562.3000000000001 L587.3,562.3000000000001 L596.8,557.5 M569.3,562.3000000000001 L569.3,577.6 M587.3,562.3000000000001 L587.3,577.6" fill="none" stroke="#3a3a3a" stroke-width="0.9"/>
<ellipse cx="578.3" cy="554.2" rx="14" ry="6.8" fill="#f2f2f2" stroke="#3a3a3a" stroke-width="0.9"/>
<ellipse cx="578.3" cy="553.2" rx="11" ry="5" fill="#7a7a7a" stroke="#3a3a3a" stroke-width="0.9"/>
<ellipse cx="578.3" cy="552.8000000000001" rx="7" ry="3" fill="#5c5c5c" stroke="#333" stroke-width="0.7"/>
<path d="M573.3,551.7 Q578.3,549.7 583.3,551.7 M574.3,554.2 Q578.3,555.7 582.3,554.2" fill="none" stroke="#999" stroke-width="0.6"/>
<ellipse cx="626.5" cy="574.8000000000001" rx="22.3" ry="8.4" fill="#fff" stroke="#3a3a3a" stroke-width="1"/>
<ellipse cx="626.5" cy="572.8000000000001" rx="22" ry="8.2" fill="#fff" stroke="#3a3a3a" stroke-width="0.9"/>
<path d="M608.0,557.5 L608.0,570.8000000000001 Q613.0,572.2 617.5,577.6 Q626.5,574.7 635.5,577.6 Q640.0,572.2 645.0,570.8000000000001 L645.0,557.5 L636.5,552.2 L616.5,552.2 Z" fill="#fff" stroke="#3a3a3a" stroke-width="1"/>
<path d="M608.0,557.5 L617.5,562.3000000000001 L635.5,562.3000000000001 L645.0,557.5 M617.5,562.3000000000001 L617.5,577.6 M635.5,562.3000000000001 L635.5,577.6" fill="none" stroke="#3a3a3a" stroke-width="0.9"/>
<ellipse cx="626.5" cy="554.2" rx="14" ry="6.8" fill="#f2f2f2" stroke="#3a3a3a" stroke-width="0.9"/>
<ellipse cx="626.5" cy="553.2" rx="11" ry="5" fill="#7a7a7a" stroke="#3a3a3a" stroke-width="0.9"/>
<ellipse cx="626.5" cy="552.8000000000001" rx="7" ry="3" fill="#5c5c5c" stroke="#333" stroke-width="0.7"/>
<path d="M621.5,551.7 Q626.5,549.7 631.5,551.7 M622.5,554.2 Q626.5,555.7 630.5,554.2" fill="none" stroke="#999" stroke-width="0.6"/>
<path d="M696.0,475.8 C696.0,459.8 705.5,456.8 714.5,456.8 C723.5,456.8 733.0,459.8 733.0,475.8 L734.0,474.3 Q736.3,474.8 736.3,478.8 L736.3,492.8 Q736.3,495.8 731.5,497.2 Q714.5,500.0 697.5,497.2 Q692.7,495.8 692.7,492.8 L692.7,478.8 Q692.7,474.8 695.0,474.3 Z" fill="#2b2b2f"/>
<path d="M695.5,474.8 Q714.5,486.8 733.5,474.8" fill="none" stroke="#d0d0d0" stroke-width="1.1"/>
<path d="M743.8,475.8 C743.8,459.8 753.3,456.8 762.3,456.8 C771.3,456.8 780.8,459.8 780.8,475.8 L781.8,474.3 Q784.0999999999999,474.8 784.0999999999999,478.8 L784.0999999999999,492.8 Q784.0999999999999,495.8 779.3,497.2 Q762.3,500.0 745.3,497.2 Q740.5,495.8 740.5,492.8 L740.5,478.8 Q740.5,474.8 742.8,474.3 Z" fill="#2b2b2f"/>
<path d="M743.3,474.8 Q762.3,486.8 781.3,474.8" fill="none" stroke="#d0d0d0" stroke-width="1.1"/>
<path d="M696.0,523.3 C696.0,507.3 705.5,504.3 714.5,504.3 C723.5,504.3 733.0,507.3 733.0,523.3 L734.0,521.8 Q736.3,522.3 736.3,526.3 L736.3,540.3 Q736.3,543.3 731.5,544.6999999999999 Q714.5,547.5 697.5,544.6999999999999 Q692.7,543.3 692.7,540.3 L692.7,526.3 Q692.7,522.3 695.0,521.8 Z" fill="#2b2b2f"/>
<path d="M695.5,522.3 Q714.5,534.3 733.5,522.3" fill="none" stroke="#d0d0d0" stroke-width="1.1"/>
<path d="M743.8,523.3 C743.8,507.3 753.3,504.3 762.3,504.3 C771.3,504.3 780.8,507.3 780.8,523.3 L781.8,521.8 Q784.0999999999999,522.3 784.0999999999999,526.3 L784.0999999999999,540.3 Q784.0999999999999,543.3 779.3,544.6999999999999 Q762.3,547.5 745.3,544.6999999999999 Q740.5,543.3 740.5,540.3 L740.5,526.3 Q740.5,522.3 742.8,521.8 Z" fill="#2b2b2f"/>
<path d="M743.3,522.3 Q762.3,534.3 781.3,522.3" fill="none" stroke="#d0d0d0" stroke-width="1.1"/>
<rect x="260.9" y="267.2" width="16.600000000000023" height="56.30000000000001" fill="#f0f0f0"/>
<path d="M261.4,268.4 Q269.2,271.4 277.0,268.4 M261.4,270.54999999999995 Q269.2,273.54999999999995 277.0,270.54999999999995 M261.4,272.69999999999993 Q269.2,275.69999999999993 277.0,272.69999999999993 M261.4,274.8499999999999 Q269.2,277.8499999999999 277.0,274.8499999999999 M261.4,276.9999999999999 Q269.2,279.9999999999999 277.0,276.9999999999999 M261.4,279.14999999999986 Q269.2,282.14999999999986 277.0,279.14999999999986 M261.4,281.29999999999984 Q269.2,284.29999999999984 277.0,281.29999999999984 M261.4,283.4499999999998 Q269.2,286.4499999999998 277.0,283.4499999999998 M261.4,285.5999999999998 Q269.2,288.5999999999998 277.0,285.5999999999998 M261.4,287.7499999999998 Q269.2,290.7499999999998 277.0,287.7499999999998 M261.4,289.89999999999975 Q269.2,292.89999999999975 277.0,289.89999999999975 M261.4,292.0499999999997 Q269.2,295.0499999999997 277.0,292.0499999999997 M261.4,294.1999999999997 Q269.2,297.1999999999997 277.0,294.1999999999997 M261.4,296.3499999999997 Q269.2,299.3499999999997 277.0,296.3499999999997 M261.4,298.49999999999966 Q269.2,301.49999999999966 277.0,298.49999999999966 M261.4,300.64999999999964 Q269.2,303.64999999999964 277.0,300.64999999999964 M261.4,302.7999999999996 Q269.2,305.7999999999996 277.0,302.7999999999996 M261.4,304.9499999999996 Q269.2,307.9499999999996 277.0,304.9499999999996 M261.4,307.09999999999957 Q269.2,310.09999999999957 277.0,307.09999999999957 M261.4,309.24999999999955 Q269.2,312.24999999999955 277.0,309.24999999999955 M261.4,311.3999999999995 Q269.2,314.3999999999995 277.0,311.3999999999995 M261.4,313.5499999999995 Q269.2,316.5499999999995 277.0,313.5499999999995 M261.4,315.6999999999995 Q269.2,318.6999999999995 277.0,315.6999999999995 M261.4,317.84999999999945 Q269.2,320.84999999999945 277.0,317.84999999999945 M261.4,319.99999999999943 Q269.2,322.99999999999943 277.0,319.99999999999943 M261.4,322.1499999999994 Q269.2,325.1499999999994 277.0,322.1499999999994" fill="none" stroke="#5e5e5e" stroke-width="0.85"/>
<path d="M260.9,267.2 L260.9,323.0 Q260.9,325.5 263.9,325.5 L274.5,325.5 Q277.5,325.5 277.5,323.0 L277.5,267.2" fill="none" stroke="#3a3a3a" stroke-width="1.1"/>
<ellipse cx="269.2" cy="264.1" rx="19.3" ry="7.6" fill="#fff" stroke="#3a3a3a" stroke-width="1"/>
<ellipse cx="269.2" cy="262.5" rx="19" ry="7.3" fill="#fff" stroke="#3a3a3a" stroke-width="0.9"/>
<path d="M253.6,253.6 L253.6,261.2 Q257.6,262.7 261.59999999999997,267.4 Q269.2,265.0 276.8,267.4 Q280.8,262.7 284.8,261.2 L284.8,253.6 C284.8,248.2 275.2,247.2 269.2,247.2 C263.2,247.2 253.6,248.2 253.6,253.6 Z" fill="#fff" stroke="#3a3a3a" stroke-width="1"/>
<path d="M253.6,253.6 L261.59999999999997,258.0 L276.8,258.0 L284.8,253.6 M261.59999999999997,258.0 L261.59999999999997,267.4 M276.8,258.0 L276.8,267.4" fill="none" stroke="#3a3a3a" stroke-width="0.9"/>
<rect x="300.9" y="267.2" width="16.600000000000023" height="56.30000000000001" fill="#f0f0f0"/>
<path d="M301.4,268.4 Q309.2,271.4 317.0,268.4 M301.4,270.54999999999995 Q309.2,273.54999999999995 317.0,270.54999999999995 M301.4,272.69999999999993 Q309.2,275.69999999999993 317.0,272.69999999999993 M301.4,274.8499999999999 Q309.2,277.8499999999999 317.0,274.8499999999999 M301.4,276.9999999999999 Q309.2,279.9999999999999 317.0,276.9999999999999 M301.4,279.14999999999986 Q309.2,282.14999999999986 317.0,279.14999999999986 M301.4,281.29999999999984 Q309.2,284.29999999999984 317.0,281.29999999999984 M301.4,283.4499999999998 Q309.2,286.4499999999998 317.0,283.4499999999998 M301.4,285.5999999999998 Q309.2,288.5999999999998 317.0,285.5999999999998 M301.4,287.7499999999998 Q309.2,290.7499999999998 317.0,287.7499999999998 M301.4,289.89999999999975 Q309.2,292.89999999999975 317.0,289.89999999999975 M301.4,292.0499999999997 Q309.2,295.0499999999997 317.0,292.0499999999997 M301.4,294.1999999999997 Q309.2,297.1999999999997 317.0,294.1999999999997 M301.4,296.3499999999997 Q309.2,299.3499999999997 317.0,296.3499999999997 M301.4,298.49999999999966 Q309.2,301.49999999999966 317.0,298.49999999999966 M301.4,300.64999999999964 Q309.2,303.64999999999964 317.0,300.64999999999964 M301.4,302.7999999999996 Q309.2,305.7999999999996 317.0,302.7999999999996 M301.4,304.9499999999996 Q309.2,307.9499999999996 317.0,304.9499999999996 M301.4,307.09999999999957 Q309.2,310.09999999999957 317.0,307.09999999999957 M301.4,309.24999999999955 Q309.2,312.24999999999955 317.0,309.24999999999955 M301.4,311.3999999999995 Q309.2,314.3999999999995 317.0,311.3999999999995 M301.4,313.5499999999995 Q309.2,316.5499999999995 317.0,313.5499999999995 M301.4,315.6999999999995 Q309.2,318.6999999999995 317.0,315.6999999999995 M301.4,317.84999999999945 Q309.2,320.84999999999945 317.0,317.84999999999945 M301.4,319.99999999999943 Q309.2,322.99999999999943 317.0,319.99999999999943 M301.4,322.1499999999994 Q309.2,325.1499999999994 317.0,322.1499999999994" fill="none" stroke="#5e5e5e" stroke-width="0.85"/>
<path d="M300.9,267.2 L300.9,323.0 Q300.9,325.5 303.9,325.5 L314.5,325.5 Q317.5,325.5 317.5,323.0 L317.5,267.2" fill="none" stroke="#3a3a3a" stroke-width="1.1"/>
<ellipse cx="309.2" cy="264.1" rx="19.3" ry="7.6" fill="#fff" stroke="#3a3a3a" stroke-width="1"/>
<ellipse cx="309.2" cy="262.5" rx="19" ry="7.3" fill="#fff" stroke="#3a3a3a" stroke-width="0.9"/>
<path d="M293.59999999999997,253.6 L293.59999999999997,261.2 Q297.59999999999997,262.7 301.59999999999997,267.4 Q309.2,265.0 316.8,267.4 Q320.8,262.7 324.8,261.2 L324.8,253.6 C324.8,248.2 315.2,247.2 309.2,247.2 C303.2,247.2 293.59999999999997,248.2 293.59999999999997,253.6 Z" fill="#fff" stroke="#3a3a3a" stroke-width="1"/>
<path d="M293.59999999999997,253.6 L301.59999999999997,258.0 L316.8,258.0 L324.8,253.6 M301.59999999999997,258.0 L301.59999999999997,267.4 M316.8,258.0 L316.8,267.4" fill="none" stroke="#3a3a3a" stroke-width="0.9"/>
<rect x="340.8" y="267.2" width="16.600000000000023" height="56.30000000000001" fill="#f0f0f0"/>
<path d="M341.3,268.4 Q349.1,271.4 356.90000000000003,268.4 M341.3,270.54999999999995 Q349.1,273.54999999999995 356.90000000000003,270.54999999999995 M341.3,272.69999999999993 Q349.1,275.69999999999993 356.90000000000003,272.69999999999993 M341.3,274.8499999999999 Q349.1,277.8499999999999 356.90000000000003,274.8499999999999 M341.3,276.9999999999999 Q349.1,279.9999999999999 356.90000000000003,276.9999999999999 M341.3,279.14999999999986 Q349.1,282.14999999999986 356.90000000000003,279.14999999999986 M341.3,281.29999999999984 Q349.1,284.29999999999984 356.90000000000003,281.29999999999984 M341.3,283.4499999999998 Q349.1,286.4499999999998 356.90000000000003,283.4499999999998 M341.3,285.5999999999998 Q349.1,288.5999999999998 356.90000000000003,285.5999999999998 M341.3,287.7499999999998 Q349.1,290.7499999999998 356.90000000000003,287.7499999999998 M341.3,289.89999999999975 Q349.1,292.89999999999975 356.90000000000003,289.89999999999975 M341.3,292.0499999999997 Q349.1,295.0499999999997 356.90000000000003,292.0499999999997 M341.3,294.1999999999997 Q349.1,297.1999999999997 356.90000000000003,294.1999999999997 M341.3,296.3499999999997 Q349.1,299.3499999999997 356.90000000000003,296.3499999999997 M341.3,298.49999999999966 Q349.1,301.49999999999966 356.90000000000003,298.49999999999966 M341.3,300.64999999999964 Q349.1,303.64999999999964 356.90000000000003,300.64999999999964 M341.3,302.7999999999996 Q349.1,305.7999999999996 356.90000000000003,302.7999999999996 M341.3,304.9499999999996 Q349.1,307.9499999999996 356.90000000000003,304.9499999999996 M341.3,307.09999999999957 Q349.1,310.09999999999957 356.90000000000003,307.09999999999957 M341.3,309.24999999999955 Q349.1,312.24999999999955 356.90000000000003,309.24999999999955 M341.3,311.3999999999995 Q349.1,314.3999999999995 356.90000000000003,311.3999999999995 M341.3,313.5499999999995 Q349.1,316.5499999999995 356.90000000000003,313.5499999999995 M341.3,315.6999999999995 Q349.1,318.6999999999995 356.90000000000003,315.6999999999995 M341.3,317.84999999999945 Q349.1,320.84999999999945 356.90000000000003,317.84999999999945 M341.3,319.99999999999943 Q349.1,322.99999999999943 356.90000000000003,319.99999999999943 M341.3,322.1499999999994 Q349.1,325.1499999999994 356.90000000000003,322.1499999999994" fill="none" stroke="#5e5e5e" stroke-width="0.85"/>
<path d="M340.8,267.2 L340.8,323.0 Q340.8,325.5 343.8,325.5 L354.40000000000003,325.5 Q357.40000000000003,325.5 357.40000000000003,323.0 L357.40000000000003,267.2" fill="none" stroke="#3a3a3a" stroke-width="1.1"/>
<ellipse cx="349.1" cy="264.1" rx="19.3" ry="7.6" fill="#fff" stroke="#3a3a3a" stroke-width="1"/>
<ellipse cx="349.1" cy="262.5" rx="19" ry="7.3" fill="#fff" stroke="#3a3a3a" stroke-width="0.9"/>
<path d="M333.5,253.6 L333.5,261.2 Q337.5,262.7 341.5,267.4 Q349.1,265.0 356.70000000000005,267.4 Q360.70000000000005,262.7 364.70000000000005,261.2 L364.70000000000005,253.6 C364.70000000000005,248.2 355.1,247.2 349.1,247.2 C343.1,247.2 333.5,248.2 333.5,253.6 Z" fill="#fff" stroke="#3a3a3a" stroke-width="1"/>
<path d="M333.5,253.6 L341.5,258.0 L356.70000000000005,258.0 L364.70000000000005,253.6 M341.5,258.0 L341.5,267.4 M356.70000000000005,258.0 L356.70000000000005,267.4" fill="none" stroke="#3a3a3a" stroke-width="0.9"/>
<rect x="381.5" y="267.2" width="16.600000000000023" height="56.30000000000001" fill="#f0f0f0"/>
<path d="M382.0,268.4 Q389.8,271.4 397.6,268.4 M382.0,270.54999999999995 Q389.8,273.54999999999995 397.6,270.54999999999995 M382.0,272.69999999999993 Q389.8,275.69999999999993 397.6,272.69999999999993 M382.0,274.8499999999999 Q389.8,277.8499999999999 397.6,274.8499999999999 M382.0,276.9999999999999 Q389.8,279.9999999999999 397.6,276.9999999999999 M382.0,279.14999999999986 Q389.8,282.14999999999986 397.6,279.14999999999986 M382.0,281.29999999999984 Q389.8,284.29999999999984 397.6,281.29999999999984 M382.0,283.4499999999998 Q389.8,286.4499999999998 397.6,283.4499999999998 M382.0,285.5999999999998 Q389.8,288.5999999999998 397.6,285.5999999999998 M382.0,287.7499999999998 Q389.8,290.7499999999998 397.6,287.7499999999998 M382.0,289.89999999999975 Q389.8,292.89999999999975 397.6,289.89999999999975 M382.0,292.0499999999997 Q389.8,295.0499999999997 397.6,292.0499999999997 M382.0,294.1999999999997 Q389.8,297.1999999999997 397.6,294.1999999999997 M382.0,296.3499999999997 Q389.8,299.3499999999997 397.6,296.3499999999997 M382.0,298.49999999999966 Q389.8,301.49999999999966 397.6,298.49999999999966 M382.0,300.64999999999964 Q389.8,303.64999999999964 397.6,300.64999999999964 M382.0,302.7999999999996 Q389.8,305.7999999999996 397.6,302.7999999999996 M382.0,304.9499999999996 Q389.8,307.9499999999996 397.6,304.9499999999996 M382.0,307.09999999999957 Q389.8,310.09999999999957 397.6,307.09999999999957 M382.0,309.24999999999955 Q389.8,312.24999999999955 397.6,309.24999999999955 M382.0,311.3999999999995 Q389.8,314.3999999999995 397.6,311.3999999999995 M382.0,313.5499999999995 Q389.8,316.5499999999995 397.6,313.5499999999995 M382.0,315.6999999999995 Q389.8,318.6999999999995 397.6,315.6999999999995 M382.0,317.84999999999945 Q389.8,320.84999999999945 397.6,317.84999999999945 M382.0,319.99999999999943 Q389.8,322.99999999999943 397.6,319.99999999999943 M382.0,322.1499999999994 Q389.8,325.1499999999994 397.6,322.1499999999994" fill="none" stroke="#5e5e5e" stroke-width="0.85"/>
<path d="M381.5,267.2 L381.5,323.0 Q381.5,325.5 384.5,325.5 L395.1,325.5 Q398.1,325.5 398.1,323.0 L398.1,267.2" fill="none" stroke="#3a3a3a" stroke-width="1.1"/>
<ellipse cx="389.8" cy="264.1" rx="19.3" ry="7.6" fill="#fff" stroke="#3a3a3a" stroke-width="1"/>
<ellipse cx="389.8" cy="262.5" rx="19" ry="7.3" fill="#fff" stroke="#3a3a3a" stroke-width="0.9"/>
<path d="M374.2,253.6 L374.2,261.2 Q378.2,262.7 382.2,267.4 Q389.8,265.0 397.40000000000003,267.4 Q401.40000000000003,262.7 405.40000000000003,261.2 L405.40000000000003,253.6 C405.40000000000003,248.2 395.8,247.2 389.8,247.2 C383.8,247.2 374.2,248.2 374.2,253.6 Z" fill="#fff" stroke="#3a3a3a" stroke-width="1"/>
<path d="M374.2,253.6 L382.2,258.0 L397.40000000000003,258.0 L405.40000000000003,253.6 M382.2,258.0 L382.2,267.4 M397.40000000000003,258.0 L397.40000000000003,267.4" fill="none" stroke="#3a3a3a" stroke-width="0.9"/>
<rect x="447.90000000000003" y="263.7" width="16.799999999999955" height="80.30000000000001" fill="#f0f0f0"/>
<path d="M448.40000000000003,264.9 Q456.3,267.9 464.2,264.9 M448.40000000000003,267.04999999999995 Q456.3,270.04999999999995 464.2,267.04999999999995 M448.40000000000003,269.19999999999993 Q456.3,272.19999999999993 464.2,269.19999999999993 M448.40000000000003,271.3499999999999 Q456.3,274.3499999999999 464.2,271.3499999999999 M448.40000000000003,273.4999999999999 Q456.3,276.4999999999999 464.2,273.4999999999999 M448.40000000000003,275.64999999999986 Q456.3,278.64999999999986 464.2,275.64999999999986 M448.40000000000003,277.79999999999984 Q456.3,280.79999999999984 464.2,277.79999999999984 M448.40000000000003,279.9499999999998 Q456.3,282.9499999999998 464.2,279.9499999999998 M448.40000000000003,282.0999999999998 Q456.3,285.0999999999998 464.2,282.0999999999998 M448.40000000000003,284.2499999999998 Q456.3,287.2499999999998 464.2,284.2499999999998 M448.40000000000003,286.39999999999975 Q456.3,289.39999999999975 464.2,286.39999999999975 M448.40000000000003,288.5499999999997 Q456.3,291.5499999999997 464.2,288.5499999999997 M448.40000000000003,290.6999999999997 Q456.3,293.6999999999997 464.2,290.6999999999997 M448.40000000000003,292.8499999999997 Q456.3,295.8499999999997 464.2,292.8499999999997 M448.40000000000003,294.99999999999966 Q456.3,297.99999999999966 464.2,294.99999999999966 M448.40000000000003,297.14999999999964 Q456.3,300.14999999999964 464.2,297.14999999999964 M448.40000000000003,299.2999999999996 Q456.3,302.2999999999996 464.2,299.2999999999996 M448.40000000000003,301.4499999999996 Q456.3,304.4499999999996 464.2,301.4499999999996 M448.40000000000003,303.59999999999957 Q456.3,306.59999999999957 464.2,303.59999999999957 M448.40000000000003,305.74999999999955 Q456.3,308.74999999999955 464.2,305.74999999999955 M448.40000000000003,307.8999999999995 Q456.3,310.8999999999995 464.2,307.8999999999995 M448.40000000000003,310.0499999999995 Q456.3,313.0499999999995 464.2,310.0499999999995 M448.40000000000003,312.1999999999995 Q456.3,315.1999999999995 464.2,312.1999999999995 M448.40000000000003,314.34999999999945 Q456.3,317.34999999999945 464.2,314.34999999999945 M448.40000000000003,316.49999999999943 Q456.3,319.49999999999943 464.2,316.49999999999943 M448.40000000000003,318.6499999999994 Q456.3,321.6499999999994 464.2,318.6499999999994 M448.40000000000003,320.7999999999994 Q456.3,323.7999999999994 464.2,320.7999999999994 M448.40000000000003,322.94999999999936 Q456.3,325.94999999999936 464.2,322.94999999999936 M448.40000000000003,325.09999999999934 Q456.3,328.09999999999934 464.2,325.09999999999934 M448.40000000000003,327.2499999999993 Q456.3,330.2499999999993 464.2,327.2499999999993 M448.40000000000003,329.3999999999993 Q456.3,332.3999999999993 464.2,329.3999999999993 M448.40000000000003,331.5499999999993 Q456.3,334.5499999999993 464.2,331.5499999999993 M448.40000000000003,333.69999999999925 Q456.3,336.69999999999925 464.2,333.69999999999925 M448.40000000000003,335.8499999999992 Q456.3,338.8499999999992 464.2,335.8499999999992 M448.40000000000003,337.9999999999992 Q456.3,340.9999999999992 464.2,337.9999999999992 M448.40000000000003,340.1499999999992 Q456.3,343.1499999999992 464.2,340.1499999999992 M448.40000000000003,342.29999999999916 Q456.3,345.29999999999916 464.2,342.29999999999916 M448.40000000000003,344.44999999999914 Q456.3,347.44999999999914 464.2,344.44999999999914" fill="none" stroke="#5e5e5e" stroke-width="0.85"/>
<path d="M447.90000000000003,263.7 L447.90000000000003,343.5 Q447.90000000000003,346 450.90000000000003,346 L461.7,346 Q464.7,346 464.7,343.5 L464.7,263.7" fill="none" stroke="#3a3a3a" stroke-width="1.1"/>
<path d="M441.90000000000003,257.7 C441.90000000000003,250.7 449.3,247.7 456.3,247.7 C463.3,247.7 470.7,250.7 470.7,257.7 C470.7,261.7 465.3,265.4 456.3,265.4 C447.3,265.4 441.90000000000003,261.7 441.90000000000003,257.7 Z" fill="#fff" stroke="#3a3a3a" stroke-width="1.1"/>
<path d="M442.40000000000003,258.2 Q456.3,264.7 470.2,258.2" fill="none" stroke="#3a3a3a" stroke-width="0.9"/>
<ellipse cx="456.3" cy="251.89999999999998" rx="6.9" ry="2.9" fill="#fff" stroke="#3a3a3a" stroke-width="1"/>
<rect x="452.7" y="249.89999999999998" width="7.2" height="3.8" fill="#f4f4f4" stroke="#555" stroke-width="0.6"/>
<rect x="479.5" y="263.7" width="16.799999999999955" height="80.30000000000001" fill="#f0f0f0"/>
<path d="M480.0,264.9 Q487.9,267.9 495.79999999999995,264.9 M480.0,267.04999999999995 Q487.9,270.04999999999995 495.79999999999995,267.04999999999995 M480.0,269.19999999999993 Q487.9,272.19999999999993 495.79999999999995,269.19999999999993 M480.0,271.3499999999999 Q487.9,274.3499999999999 495.79999999999995,271.3499999999999 M480.0,273.4999999999999 Q487.9,276.4999999999999 495.79999999999995,273.4999999999999 M480.0,275.64999999999986 Q487.9,278.64999999999986 495.79999999999995,275.64999999999986 M480.0,277.79999999999984 Q487.9,280.79999999999984 495.79999999999995,277.79999999999984 M480.0,279.9499999999998 Q487.9,282.9499999999998 495.79999999999995,279.9499999999998 M480.0,282.0999999999998 Q487.9,285.0999999999998 495.79999999999995,282.0999999999998 M480.0,284.2499999999998 Q487.9,287.2499999999998 495.79999999999995,284.2499999999998 M480.0,286.39999999999975 Q487.9,289.39999999999975 495.79999999999995,286.39999999999975 M480.0,288.5499999999997 Q487.9,291.5499999999997 495.79999999999995,288.5499999999997 M480.0,290.6999999999997 Q487.9,293.6999999999997 495.79999999999995,290.6999999999997 M480.0,292.8499999999997 Q487.9,295.8499999999997 495.79999999999995,292.8499999999997 M480.0,294.99999999999966 Q487.9,297.99999999999966 495.79999999999995,294.99999999999966 M480.0,297.14999999999964 Q487.9,300.14999999999964 495.79999999999995,297.14999999999964 M480.0,299.2999999999996 Q487.9,302.2999999999996 495.79999999999995,299.2999999999996 M480.0,301.4499999999996 Q487.9,304.4499999999996 495.79999999999995,301.4499999999996 M480.0,303.59999999999957 Q487.9,306.59999999999957 495.79999999999995,303.59999999999957 M480.0,305.74999999999955 Q487.9,308.74999999999955 495.79999999999995,305.74999999999955 M480.0,307.8999999999995 Q487.9,310.8999999999995 495.79999999999995,307.8999999999995 M480.0,310.0499999999995 Q487.9,313.0499999999995 495.79999999999995,310.0499999999995 M480.0,312.1999999999995 Q487.9,315.1999999999995 495.79999999999995,312.1999999999995 M480.0,314.34999999999945 Q487.9,317.34999999999945 495.79999999999995,314.34999999999945 M480.0,316.49999999999943 Q487.9,319.49999999999943 495.79999999999995,316.49999999999943 M480.0,318.6499999999994 Q487.9,321.6499999999994 495.79999999999995,318.6499999999994 M480.0,320.7999999999994 Q487.9,323.7999999999994 495.79999999999995,320.7999999999994 M480.0,322.94999999999936 Q487.9,325.94999999999936 495.79999999999995,322.94999999999936 M480.0,325.09999999999934 Q487.9,328.09999999999934 495.79999999999995,325.09999999999934 M480.0,327.2499999999993 Q487.9,330.2499999999993 495.79999999999995,327.2499999999993 M480.0,329.3999999999993 Q487.9,332.3999999999993 495.79999999999995,329.3999999999993 M480.0,331.5499999999993 Q487.9,334.5499999999993 495.79999999999995,331.5499999999993 M480.0,333.69999999999925 Q487.9,336.69999999999925 495.79999999999995,333.69999999999925 M480.0,335.8499999999992 Q487.9,338.8499999999992 495.79999999999995,335.8499999999992 M480.0,337.9999999999992 Q487.9,340.9999999999992 495.79999999999995,337.9999999999992 M480.0,340.1499999999992 Q487.9,343.1499999999992 495.79999999999995,340.1499999999992 M480.0,342.29999999999916 Q487.9,345.29999999999916 495.79999999999995,342.29999999999916 M480.0,344.44999999999914 Q487.9,347.44999999999914 495.79999999999995,344.44999999999914" fill="none" stroke="#5e5e5e" stroke-width="0.85"/>
<path d="M479.5,263.7 L479.5,343.5 Q479.5,346 482.5,346 L493.29999999999995,346 Q496.29999999999995,346 496.29999999999995,343.5 L496.29999999999995,263.7" fill="none" stroke="#3a3a3a" stroke-width="1.1"/>
<path d="M473.5,257.7 C473.5,250.7 480.9,247.7 487.9,247.7 C494.9,247.7 502.29999999999995,250.7 502.29999999999995,257.7 C502.29999999999995,261.7 496.9,265.4 487.9,265.4 C478.9,265.4 473.5,261.7 473.5,257.7 Z" fill="#fff" stroke="#3a3a3a" stroke-width="1.1"/>
<path d="M474.0,258.2 Q487.9,264.7 501.79999999999995,258.2" fill="none" stroke="#3a3a3a" stroke-width="0.9"/>
<ellipse cx="487.9" cy="251.89999999999998" rx="6.9" ry="2.9" fill="#fff" stroke="#3a3a3a" stroke-width="1"/>
<rect x="484.29999999999995" y="249.89999999999998" width="7.2" height="3.8" fill="#f4f4f4" stroke="#555" stroke-width="0.6"/>
<rect x="511.20000000000005" y="263.7" width="16.799999999999955" height="80.30000000000001" fill="#f0f0f0"/>
<path d="M511.70000000000005,264.9 Q519.6,267.9 527.5,264.9 M511.70000000000005,267.04999999999995 Q519.6,270.04999999999995 527.5,267.04999999999995 M511.70000000000005,269.19999999999993 Q519.6,272.19999999999993 527.5,269.19999999999993 M511.70000000000005,271.3499999999999 Q519.6,274.3499999999999 527.5,271.3499999999999 M511.70000000000005,273.4999999999999 Q519.6,276.4999999999999 527.5,273.4999999999999 M511.70000000000005,275.64999999999986 Q519.6,278.64999999999986 527.5,275.64999999999986 M511.70000000000005,277.79999999999984 Q519.6,280.79999999999984 527.5,277.79999999999984 M511.70000000000005,279.9499999999998 Q519.6,282.9499999999998 527.5,279.9499999999998 M511.70000000000005,282.0999999999998 Q519.6,285.0999999999998 527.5,282.0999999999998 M511.70000000000005,284.2499999999998 Q519.6,287.2499999999998 527.5,284.2499999999998 M511.70000000000005,286.39999999999975 Q519.6,289.39999999999975 527.5,286.39999999999975 M511.70000000000005,288.5499999999997 Q519.6,291.5499999999997 527.5,288.5499999999997 M511.70000000000005,290.6999999999997 Q519.6,293.6999999999997 527.5,290.6999999999997 M511.70000000000005,292.8499999999997 Q519.6,295.8499999999997 527.5,292.8499999999997 M511.70000000000005,294.99999999999966 Q519.6,297.99999999999966 527.5,294.99999999999966 M511.70000000000005,297.14999999999964 Q519.6,300.14999999999964 527.5,297.14999999999964 M511.70000000000005,299.2999999999996 Q519.6,302.2999999999996 527.5,299.2999999999996 M511.70000000000005,301.4499999999996 Q519.6,304.4499999999996 527.5,301.4499999999996 M511.70000000000005,303.59999999999957 Q519.6,306.59999999999957 527.5,303.59999999999957 M511.70000000000005,305.74999999999955 Q519.6,308.74999999999955 527.5,305.74999999999955 M511.70000000000005,307.8999999999995 Q519.6,310.8999999999995 527.5,307.8999999999995 M511.70000000000005,310.0499999999995 Q519.6,313.0499999999995 527.5,310.0499999999995 M511.70000000000005,312.1999999999995 Q519.6,315.1999999999995 527.5,312.1999999999995 M511.70000000000005,314.34999999999945 Q519.6,317.34999999999945 527.5,314.34999999999945 M511.70000000000005,316.49999999999943 Q519.6,319.49999999999943 527.5,316.49999999999943 M511.70000000000005,318.6499999999994 Q519.6,321.6499999999994 527.5,318.6499999999994 M511.70000000000005,320.7999999999994 Q519.6,323.7999999999994 527.5,320.7999999999994 M511.70000000000005,322.94999999999936 Q519.6,325.94999999999936 527.5,322.94999999999936 M511.70000000000005,325.09999999999934 Q519.6,328.09999999999934 527.5,325.09999999999934 M511.70000000000005,327.2499999999993 Q519.6,330.2499999999993 527.5,327.2499999999993 M511.70000000000005,329.3999999999993 Q519.6,332.3999999999993 527.5,329.3999999999993 M511.70000000000005,331.5499999999993 Q519.6,334.5499999999993 527.5,331.5499999999993 M511.70000000000005,333.69999999999925 Q519.6,336.69999999999925 527.5,333.69999999999925 M511.70000000000005,335.8499999999992 Q519.6,338.8499999999992 527.5,335.8499999999992 M511.70000000000005,337.9999999999992 Q519.6,340.9999999999992 527.5,337.9999999999992 M511.70000000000005,340.1499999999992 Q519.6,343.1499999999992 527.5,340.1499999999992 M511.70000000000005,342.29999999999916 Q519.6,345.29999999999916 527.5,342.29999999999916 M511.70000000000005,344.44999999999914 Q519.6,347.44999999999914 527.5,344.44999999999914" fill="none" stroke="#5e5e5e" stroke-width="0.85"/>
<path d="M511.20000000000005,263.7 L511.20000000000005,343.5 Q511.20000000000005,346 514.2,346 L525.0,346 Q528.0,346 528.0,343.5 L528.0,263.7" fill="none" stroke="#3a3a3a" stroke-width="1.1"/>
<path d="M505.20000000000005,257.7 C505.20000000000005,250.7 512.6,247.7 519.6,247.7 C526.6,247.7 534.0,250.7 534.0,257.7 C534.0,261.7 528.6,265.4 519.6,265.4 C510.6,265.4 505.20000000000005,261.7 505.20000000000005,257.7 Z" fill="#fff" stroke="#3a3a3a" stroke-width="1.1"/>
<path d="M505.70000000000005,258.2 Q519.6,264.7 533.5,258.2" fill="none" stroke="#3a3a3a" stroke-width="0.9"/>
<ellipse cx="519.6" cy="251.89999999999998" rx="6.9" ry="2.9" fill="#fff" stroke="#3a3a3a" stroke-width="1"/>
<rect x="516.0" y="249.89999999999998" width="7.2" height="3.8" fill="#f4f4f4" stroke="#555" stroke-width="0.6"/>
<rect x="542.4" y="263.7" width="16.799999999999955" height="80.30000000000001" fill="#f0f0f0"/>
<path d="M542.9,264.9 Q550.8,267.9 558.6999999999999,264.9 M542.9,267.04999999999995 Q550.8,270.04999999999995 558.6999999999999,267.04999999999995 M542.9,269.19999999999993 Q550.8,272.19999999999993 558.6999999999999,269.19999999999993 M542.9,271.3499999999999 Q550.8,274.3499999999999 558.6999999999999,271.3499999999999 M542.9,273.4999999999999 Q550.8,276.4999999999999 558.6999999999999,273.4999999999999 M542.9,275.64999999999986 Q550.8,278.64999999999986 558.6999999999999,275.64999999999986 M542.9,277.79999999999984 Q550.8,280.79999999999984 558.6999999999999,277.79999999999984 M542.9,279.9499999999998 Q550.8,282.9499999999998 558.6999999999999,279.9499999999998 M542.9,282.0999999999998 Q550.8,285.0999999999998 558.6999999999999,282.0999999999998 M542.9,284.2499999999998 Q550.8,287.2499999999998 558.6999999999999,284.2499999999998 M542.9,286.39999999999975 Q550.8,289.39999999999975 558.6999999999999,286.39999999999975 M542.9,288.5499999999997 Q550.8,291.5499999999997 558.6999999999999,288.5499999999997 M542.9,290.6999999999997 Q550.8,293.6999999999997 558.6999999999999,290.6999999999997 M542.9,292.8499999999997 Q550.8,295.8499999999997 558.6999999999999,292.8499999999997 M542.9,294.99999999999966 Q550.8,297.99999999999966 558.6999999999999,294.99999999999966 M542.9,297.14999999999964 Q550.8,300.14999999999964 558.6999999999999,297.14999999999964 M542.9,299.2999999999996 Q550.8,302.2999999999996 558.6999999999999,299.2999999999996 M542.9,301.4499999999996 Q550.8,304.4499999999996 558.6999999999999,301.4499999999996 M542.9,303.59999999999957 Q550.8,306.59999999999957 558.6999999999999,303.59999999999957 M542.9,305.74999999999955 Q550.8,308.74999999999955 558.6999999999999,305.74999999999955 M542.9,307.8999999999995 Q550.8,310.8999999999995 558.6999999999999,307.8999999999995 M542.9,310.0499999999995 Q550.8,313.0499999999995 558.6999999999999,310.0499999999995 M542.9,312.1999999999995 Q550.8,315.1999999999995 558.6999999999999,312.1999999999995 M542.9,314.34999999999945 Q550.8,317.34999999999945 558.6999999999999,314.34999999999945 M542.9,316.49999999999943 Q550.8,319.49999999999943 558.6999999999999,316.49999999999943 M542.9,318.6499999999994 Q550.8,321.6499999999994 558.6999999999999,318.6499999999994 M542.9,320.7999999999994 Q550.8,323.7999999999994 558.6999999999999,320.7999999999994 M542.9,322.94999999999936 Q550.8,325.94999999999936 558.6999999999999,322.94999999999936 M542.9,325.09999999999934 Q550.8,328.09999999999934 558.6999999999999,325.09999999999934 M542.9,327.2499999999993 Q550.8,330.2499999999993 558.6999999999999,327.2499999999993 M542.9,329.3999999999993 Q550.8,332.3999999999993 558.6999999999999,329.3999999999993 M542.9,331.5499999999993 Q550.8,334.5499999999993 558.6999999999999,331.5499999999993 M542.9,333.69999999999925 Q550.8,336.69999999999925 558.6999999999999,333.69999999999925 M542.9,335.8499999999992 Q550.8,338.8499999999992 558.6999999999999,335.8499999999992 M542.9,337.9999999999992 Q550.8,340.9999999999992 558.6999999999999,337.9999999999992 M542.9,340.1499999999992 Q550.8,343.1499999999992 558.6999999999999,340.1499999999992 M542.9,342.29999999999916 Q550.8,345.29999999999916 558.6999999999999,342.29999999999916 M542.9,344.44999999999914 Q550.8,347.44999999999914 558.6999999999999,344.44999999999914" fill="none" stroke="#5e5e5e" stroke-width="0.85"/>
<path d="M542.4,263.7 L542.4,343.5 Q542.4,346 545.4,346 L556.1999999999999,346 Q559.1999999999999,346 559.1999999999999,343.5 L559.1999999999999,263.7" fill="none" stroke="#3a3a3a" stroke-width="1.1"/>
<path d="M536.4,257.7 C536.4,250.7 543.8,247.7 550.8,247.7 C557.8,247.7 565.1999999999999,250.7 565.1999999999999,257.7 C565.1999999999999,261.7 559.8,265.4 550.8,265.4 C541.8,265.4 536.4,261.7 536.4,257.7 Z" fill="#fff" stroke="#3a3a3a" stroke-width="1.1"/>
<path d="M536.9,258.2 Q550.8,264.7 564.6999999999999,258.2" fill="none" stroke="#3a3a3a" stroke-width="0.9"/>
<ellipse cx="550.8" cy="251.89999999999998" rx="6.9" ry="2.9" fill="#fff" stroke="#3a3a3a" stroke-width="1"/>
<rect x="547.1999999999999" y="249.89999999999998" width="7.2" height="3.8" fill="#f4f4f4" stroke="#555" stroke-width="0.6"/>
<rect x="596.5" y="223.6" width="16.799999999999955" height="59.79999999999998" fill="#f0f0f0"/>
<path d="M597.0,224.79999999999998 Q604.9,227.79999999999998 612.8,224.79999999999998 M597.0,226.95 Q604.9,229.95 612.8,226.95 M597.0,229.1 Q604.9,232.1 612.8,229.1 M597.0,231.25 Q604.9,234.25 612.8,231.25 M597.0,233.4 Q604.9,236.4 612.8,233.4 M597.0,235.55 Q604.9,238.55 612.8,235.55 M597.0,237.70000000000002 Q604.9,240.70000000000002 612.8,237.70000000000002 M597.0,239.85000000000002 Q604.9,242.85000000000002 612.8,239.85000000000002 M597.0,242.00000000000003 Q604.9,245.00000000000003 612.8,242.00000000000003 M597.0,244.15000000000003 Q604.9,247.15000000000003 612.8,244.15000000000003 M597.0,246.30000000000004 Q604.9,249.30000000000004 612.8,246.30000000000004 M597.0,248.45000000000005 Q604.9,251.45000000000005 612.8,248.45000000000005 M597.0,250.60000000000005 Q604.9,253.60000000000005 612.8,250.60000000000005 M597.0,252.75000000000006 Q604.9,255.75000000000006 612.8,252.75000000000006 M597.0,254.90000000000006 Q604.9,257.9000000000001 612.8,254.90000000000006 M597.0,257.05000000000007 Q604.9,260.05000000000007 612.8,257.05000000000007 M597.0,259.20000000000005 Q604.9,262.20000000000005 612.8,259.20000000000005 M597.0,261.35 Q604.9,264.35 612.8,261.35 M597.0,263.5 Q604.9,266.5 612.8,263.5 M597.0,265.65 Q604.9,268.65 612.8,265.65 M597.0,267.79999999999995 Q604.9,270.79999999999995 612.8,267.79999999999995 M597.0,269.94999999999993 Q604.9,272.94999999999993 612.8,269.94999999999993 M597.0,272.0999999999999 Q604.9,275.0999999999999 612.8,272.0999999999999 M597.0,274.2499999999999 Q604.9,277.2499999999999 612.8,274.2499999999999 M597.0,276.39999999999986 Q604.9,279.39999999999986 612.8,276.39999999999986 M597.0,278.54999999999984 Q604.9,281.54999999999984 612.8,278.54999999999984 M597.0,280.6999999999998 Q604.9,283.6999999999998 612.8,280.6999999999998 M597.0,282.8499999999998 Q604.9,285.8499999999998 612.8,282.8499999999998" fill="none" stroke="#5e5e5e" stroke-width="0.85"/>
<path d="M596.5,223.6 L596.5,282.9 Q596.5,285.4 599.5,285.4 L610.3,285.4 Q613.3,285.4 613.3,282.9 L613.3,223.6" fill="none" stroke="#3a3a3a" stroke-width="1.1"/>
<path d="M590.6999999999999,217.6 C590.6999999999999,210.6 597.9,207.6 604.9,207.6 C611.9,207.6 619.1,210.6 619.1,217.6 C619.1,221.6 613.9,225.29999999999998 604.9,225.29999999999998 C595.9,225.29999999999998 590.6999999999999,221.6 590.6999999999999,217.6 Z" fill="#fff" stroke="#3a3a3a" stroke-width="1.1"/>
<path d="M591.1999999999999,218.1 Q604.9,224.6 618.6,218.1" fill="none" stroke="#3a3a3a" stroke-width="0.9"/>
<ellipse cx="604.9" cy="211.79999999999998" rx="6.9" ry="2.9" fill="#fff" stroke="#3a3a3a" stroke-width="1"/>
<rect x="601.3" y="209.79999999999998" width="7.2" height="3.8" fill="#f4f4f4" stroke="#555" stroke-width="0.6"/>
<rect x="596.5" y="304.3" width="16.799999999999955" height="59.19999999999999" fill="#f0f0f0"/>
<path d="M597.0,305.5 Q604.9,308.5 612.8,305.5 M597.0,307.65 Q604.9,310.65 612.8,307.65 M597.0,309.79999999999995 Q604.9,312.79999999999995 612.8,309.79999999999995 M597.0,311.94999999999993 Q604.9,314.94999999999993 612.8,311.94999999999993 M597.0,314.0999999999999 Q604.9,317.0999999999999 612.8,314.0999999999999 M597.0,316.2499999999999 Q604.9,319.2499999999999 612.8,316.2499999999999 M597.0,318.39999999999986 Q604.9,321.39999999999986 612.8,318.39999999999986 M597.0,320.54999999999984 Q604.9,323.54999999999984 612.8,320.54999999999984 M597.0,322.6999999999998 Q604.9,325.6999999999998 612.8,322.6999999999998 M597.0,324.8499999999998 Q604.9,327.8499999999998 612.8,324.8499999999998 M597.0,326.9999999999998 Q604.9,329.9999999999998 612.8,326.9999999999998 M597.0,329.14999999999975 Q604.9,332.14999999999975 612.8,329.14999999999975 M597.0,331.2999999999997 Q604.9,334.2999999999997 612.8,331.2999999999997 M597.0,333.4499999999997 Q604.9,336.4499999999997 612.8,333.4499999999997 M597.0,335.5999999999997 Q604.9,338.5999999999997 612.8,335.5999999999997 M597.0,337.74999999999966 Q604.9,340.74999999999966 612.8,337.74999999999966 M597.0,339.89999999999964 Q604.9,342.89999999999964 612.8,339.89999999999964 M597.0,342.0499999999996 Q604.9,345.0499999999996 612.8,342.0499999999996 M597.0,344.1999999999996 Q604.9,347.1999999999996 612.8,344.1999999999996 M597.0,346.34999999999957 Q604.9,349.34999999999957 612.8,346.34999999999957 M597.0,348.49999999999955 Q604.9,351.49999999999955 612.8,348.49999999999955 M597.0,350.6499999999995 Q604.9,353.6499999999995 612.8,350.6499999999995 M597.0,352.7999999999995 Q604.9,355.7999999999995 612.8,352.7999999999995 M597.0,354.9499999999995 Q604.9,357.9499999999995 612.8,354.9499999999995 M597.0,357.09999999999945 Q604.9,360.09999999999945 612.8,357.09999999999945 M597.0,359.24999999999943 Q604.9,362.24999999999943 612.8,359.24999999999943 M597.0,361.3999999999994 Q604.9,364.3999999999994 612.8,361.3999999999994 M597.0,363.5499999999994 Q604.9,366.5499999999994 612.8,363.5499999999994" fill="none" stroke="#5e5e5e" stroke-width="0.85"/>
<path d="M596.5,304.3 L596.5,363.0 Q596.5,365.5 599.5,365.5 L610.3,365.5 Q613.3,365.5 613.3,363.0 L613.3,304.3" fill="none" stroke="#3a3a3a" stroke-width="1.1"/>
<path d="M590.6999999999999,298.3 C590.6999999999999,291.3 597.9,288.3 604.9,288.3 C611.9,288.3 619.1,291.3 619.1,298.3 C619.1,302.3 613.9,306.0 604.9,306.0 C595.9,306.0 590.6999999999999,302.3 590.6999999999999,298.3 Z" fill="#fff" stroke="#3a3a3a" stroke-width="1.1"/>
<path d="M591.1999999999999,298.8 Q604.9,305.3 618.6,298.8" fill="none" stroke="#3a3a3a" stroke-width="0.9"/>
<ellipse cx="604.9" cy="292.5" rx="6.9" ry="2.9" fill="#fff" stroke="#3a3a3a" stroke-width="1"/>
<rect x="601.3" y="290.5" width="7.2" height="3.8" fill="#f4f4f4" stroke="#555" stroke-width="0.6"/>
<rect x="627.5" y="223.6" width="16.799999999999955" height="59.79999999999998" fill="#f0f0f0"/>
<path d="M628.0,224.79999999999998 Q635.9,227.79999999999998 643.8,224.79999999999998 M628.0,226.95 Q635.9,229.95 643.8,226.95 M628.0,229.1 Q635.9,232.1 643.8,229.1 M628.0,231.25 Q635.9,234.25 643.8,231.25 M628.0,233.4 Q635.9,236.4 643.8,233.4 M628.0,235.55 Q635.9,238.55 643.8,235.55 M628.0,237.70000000000002 Q635.9,240.70000000000002 643.8,237.70000000000002 M628.0,239.85000000000002 Q635.9,242.85000000000002 643.8,239.85000000000002 M628.0,242.00000000000003 Q635.9,245.00000000000003 643.8,242.00000000000003 M628.0,244.15000000000003 Q635.9,247.15000000000003 643.8,244.15000000000003 M628.0,246.30000000000004 Q635.9,249.30000000000004 643.8,246.30000000000004 M628.0,248.45000000000005 Q635.9,251.45000000000005 643.8,248.45000000000005 M628.0,250.60000000000005 Q635.9,253.60000000000005 643.8,250.60000000000005 M628.0,252.75000000000006 Q635.9,255.75000000000006 643.8,252.75000000000006 M628.0,254.90000000000006 Q635.9,257.9000000000001 643.8,254.90000000000006 M628.0,257.05000000000007 Q635.9,260.05000000000007 643.8,257.05000000000007 M628.0,259.20000000000005 Q635.9,262.20000000000005 643.8,259.20000000000005 M628.0,261.35 Q635.9,264.35 643.8,261.35 M628.0,263.5 Q635.9,266.5 643.8,263.5 M628.0,265.65 Q635.9,268.65 643.8,265.65 M628.0,267.79999999999995 Q635.9,270.79999999999995 643.8,267.79999999999995 M628.0,269.94999999999993 Q635.9,272.94999999999993 643.8,269.94999999999993 M628.0,272.0999999999999 Q635.9,275.0999999999999 643.8,272.0999999999999 M628.0,274.2499999999999 Q635.9,277.2499999999999 643.8,274.2499999999999 M628.0,276.39999999999986 Q635.9,279.39999999999986 643.8,276.39999999999986 M628.0,278.54999999999984 Q635.9,281.54999999999984 643.8,278.54999999999984 M628.0,280.6999999999998 Q635.9,283.6999999999998 643.8,280.6999999999998 M628.0,282.8499999999998 Q635.9,285.8499999999998 643.8,282.8499999999998" fill="none" stroke="#5e5e5e" stroke-width="0.85"/>
<path d="M627.5,223.6 L627.5,282.9 Q627.5,285.4 630.5,285.4 L641.3,285.4 Q644.3,285.4 644.3,282.9 L644.3,223.6" fill="none" stroke="#3a3a3a" stroke-width="1.1"/>
<path d="M621.6999999999999,217.6 C621.6999999999999,210.6 628.9,207.6 635.9,207.6 C642.9,207.6 650.1,210.6 650.1,217.6 C650.1,221.6 644.9,225.29999999999998 635.9,225.29999999999998 C626.9,225.29999999999998 621.6999999999999,221.6 621.6999999999999,217.6 Z" fill="#fff" stroke="#3a3a3a" stroke-width="1.1"/>
<path d="M622.1999999999999,218.1 Q635.9,224.6 649.6,218.1" fill="none" stroke="#3a3a3a" stroke-width="0.9"/>
<ellipse cx="635.9" cy="211.79999999999998" rx="6.9" ry="2.9" fill="#fff" stroke="#3a3a3a" stroke-width="1"/>
<rect x="632.3" y="209.79999999999998" width="7.2" height="3.8" fill="#f4f4f4" stroke="#555" stroke-width="0.6"/>
<rect x="627.5" y="304.3" width="16.799999999999955" height="59.19999999999999" fill="#f0f0f0"/>
<path d="M628.0,305.5 Q635.9,308.5 643.8,305.5 M628.0,307.65 Q635.9,310.65 643.8,307.65 M628.0,309.79999999999995 Q635.9,312.79999999999995 643.8,309.79999999999995 M628.0,311.94999999999993 Q635.9,314.94999999999993 643.8,311.94999999999993 M628.0,314.0999999999999 Q635.9,317.0999999999999 643.8,314.0999999999999 M628.0,316.2499999999999 Q635.9,319.2499999999999 643.8,316.2499999999999 M628.0,318.39999999999986 Q635.9,321.39999999999986 643.8,318.39999999999986 M628.0,320.54999999999984 Q635.9,323.54999999999984 643.8,320.54999999999984 M628.0,322.6999999999998 Q635.9,325.6999999999998 643.8,322.6999999999998 M628.0,324.8499999999998 Q635.9,327.8499999999998 643.8,324.8499999999998 M628.0,326.9999999999998 Q635.9,329.9999999999998 643.8,326.9999999999998 M628.0,329.14999999999975 Q635.9,332.14999999999975 643.8,329.14999999999975 M628.0,331.2999999999997 Q635.9,334.2999999999997 643.8,331.2999999999997 M628.0,333.4499999999997 Q635.9,336.4499999999997 643.8,333.4499999999997 M628.0,335.5999999999997 Q635.9,338.5999999999997 643.8,335.5999999999997 M628.0,337.74999999999966 Q635.9,340.74999999999966 643.8,337.74999999999966 M628.0,339.89999999999964 Q635.9,342.89999999999964 643.8,339.89999999999964 M628.0,342.0499999999996 Q635.9,345.0499999999996 643.8,342.0499999999996 M628.0,344.1999999999996 Q635.9,347.1999999999996 643.8,344.1999999999996 M628.0,346.34999999999957 Q635.9,349.34999999999957 643.8,346.34999999999957 M628.0,348.49999999999955 Q635.9,351.49999999999955 643.8,348.49999999999955 M628.0,350.6499999999995 Q635.9,353.6499999999995 643.8,350.6499999999995 M628.0,352.7999999999995 Q635.9,355.7999999999995 643.8,352.7999999999995 M628.0,354.9499999999995 Q635.9,357.9499999999995 643.8,354.9499999999995 M628.0,357.09999999999945 Q635.9,360.09999999999945 643.8,357.09999999999945 M628.0,359.24999999999943 Q635.9,362.24999999999943 643.8,359.24999999999943 M628.0,361.3999999999994 Q635.9,364.3999999999994 643.8,361.3999999999994 M628.0,363.5499999999994 Q635.9,366.5499999999994 643.8,363.5499999999994" fill="none" stroke="#5e5e5e" stroke-width="0.85"/>
<path d="M627.5,304.3 L627.5,363.0 Q627.5,365.5 630.5,365.5 L641.3,365.5 Q644.3,365.5 644.3,363.0 L644.3,304.3" fill="none" stroke="#3a3a3a" stroke-width="1.1"/>
<path d="M621.6999999999999,298.3 C621.6999999999999,291.3 628.9,288.3 635.9,288.3 C642.9,288.3 650.1,291.3 650.1,298.3 C650.1,302.3 644.9,306.0 635.9,306.0 C626.9,306.0 621.6999999999999,302.3 621.6999999999999,298.3 Z" fill="#fff" stroke="#3a3a3a" stroke-width="1.1"/>
<path d="M622.1999999999999,298.8 Q635.9,305.3 649.6,298.8" fill="none" stroke="#3a3a3a" stroke-width="0.9"/>
<ellipse cx="635.9" cy="292.5" rx="6.9" ry="2.9" fill="#fff" stroke="#3a3a3a" stroke-width="1"/>
<rect x="632.3" y="290.5" width="7.2" height="3.8" fill="#f4f4f4" stroke="#555" stroke-width="0.6"/>
<rect x="658.8000000000001" y="223.6" width="16.799999999999955" height="59.79999999999998" fill="#f0f0f0"/>
<path d="M659.3000000000001,224.79999999999998 Q667.2,227.79999999999998 675.1,224.79999999999998 M659.3000000000001,226.95 Q667.2,229.95 675.1,226.95 M659.3000000000001,229.1 Q667.2,232.1 675.1,229.1 M659.3000000000001,231.25 Q667.2,234.25 675.1,231.25 M659.3000000000001,233.4 Q667.2,236.4 675.1,233.4 M659.3000000000001,235.55 Q667.2,238.55 675.1,235.55 M659.3000000000001,237.70000000000002 Q667.2,240.70000000000002 675.1,237.70000000000002 M659.3000000000001,239.85000000000002 Q667.2,242.85000000000002 675.1,239.85000000000002 M659.3000000000001,242.00000000000003 Q667.2,245.00000000000003 675.1,242.00000000000003 M659.3000000000001,244.15000000000003 Q667.2,247.15000000000003 675.1,244.15000000000003 M659.3000000000001,246.30000000000004 Q667.2,249.30000000000004 675.1,246.30000000000004 M659.3000000000001,248.45000000000005 Q667.2,251.45000000000005 675.1,248.45000000000005 M659.3000000000001,250.60000000000005 Q667.2,253.60000000000005 675.1,250.60000000000005 M659.3000000000001,252.75000000000006 Q667.2,255.75000000000006 675.1,252.75000000000006 M659.3000000000001,254.90000000000006 Q667.2,257.9000000000001 675.1,254.90000000000006 M659.3000000000001,257.05000000000007 Q667.2,260.05000000000007 675.1,257.05000000000007 M659.3000000000001,259.20000000000005 Q667.2,262.20000000000005 675.1,259.20000000000005 M659.3000000000001,261.35 Q667.2,264.35 675.1,261.35 M659.3000000000001,263.5 Q667.2,266.5 675.1,263.5 M659.3000000000001,265.65 Q667.2,268.65 675.1,265.65 M659.3000000000001,267.79999999999995 Q667.2,270.79999999999995 675.1,267.79999999999995 M659.3000000000001,269.94999999999993 Q667.2,272.94999999999993 675.1,269.94999999999993 M659.3000000000001,272.0999999999999 Q667.2,275.0999999999999 675.1,272.0999999999999 M659.3000000000001,274.2499999999999 Q667.2,277.2499999999999 675.1,274.2499999999999 M659.3000000000001,276.39999999999986 Q667.2,279.39999999999986 675.1,276.39999999999986 M659.3000000000001,278.54999999999984 Q667.2,281.54999999999984 675.1,278.54999999999984 M659.3000000000001,280.6999999999998 Q667.2,283.6999999999998 675.1,280.6999999999998 M659.3000000000001,282.8499999999998 Q667.2,285.8499999999998 675.1,282.8499999999998" fill="none" stroke="#5e5e5e" stroke-width="0.85"/>
<path d="M658.8000000000001,223.6 L658.8000000000001,282.9 Q658.8000000000001,285.4 661.8000000000001,285.4 L672.6,285.4 Q675.6,285.4 675.6,282.9 L675.6,223.6" fill="none" stroke="#3a3a3a" stroke-width="1.1"/>
<path d="M653.0,217.6 C653.0,210.6 660.2,207.6 667.2,207.6 C674.2,207.6 681.4000000000001,210.6 681.4000000000001,217.6 C681.4000000000001,221.6 676.2,225.29999999999998 667.2,225.29999999999998 C658.2,225.29999999999998 653.0,221.6 653.0,217.6 Z" fill="#fff" stroke="#3a3a3a" stroke-width="1.1"/>
<path d="M653.5,218.1 Q667.2,224.6 680.9000000000001,218.1" fill="none" stroke="#3a3a3a" stroke-width="0.9"/>
<ellipse cx="667.2" cy="211.79999999999998" rx="6.9" ry="2.9" fill="#fff" stroke="#3a3a3a" stroke-width="1"/>
<rect x="663.6" y="209.79999999999998" width="7.2" height="3.8" fill="#f4f4f4" stroke="#555" stroke-width="0.6"/>
<rect x="658.8000000000001" y="304.3" width="16.799999999999955" height="59.19999999999999" fill="#f0f0f0"/>
<path d="M659.3000000000001,305.5 Q667.2,308.5 675.1,305.5 M659.3000000000001,307.65 Q667.2,310.65 675.1,307.65 M659.3000000000001,309.79999999999995 Q667.2,312.79999999999995 675.1,309.79999999999995 M659.3000000000001,311.94999999999993 Q667.2,314.94999999999993 675.1,311.94999999999993 M659.3000000000001,314.0999999999999 Q667.2,317.0999999999999 675.1,314.0999999999999 M659.3000000000001,316.2499999999999 Q667.2,319.2499999999999 675.1,316.2499999999999 M659.3000000000001,318.39999999999986 Q667.2,321.39999999999986 675.1,318.39999999999986 M659.3000000000001,320.54999999999984 Q667.2,323.54999999999984 675.1,320.54999999999984 M659.3000000000001,322.6999999999998 Q667.2,325.6999999999998 675.1,322.6999999999998 M659.3000000000001,324.8499999999998 Q667.2,327.8499999999998 675.1,324.8499999999998 M659.3000000000001,326.9999999999998 Q667.2,329.9999999999998 675.1,326.9999999999998 M659.3000000000001,329.14999999999975 Q667.2,332.14999999999975 675.1,329.14999999999975 M659.3000000000001,331.2999999999997 Q667.2,334.2999999999997 675.1,331.2999999999997 M659.3000000000001,333.4499999999997 Q667.2,336.4499999999997 675.1,333.4499999999997 M659.3000000000001,335.5999999999997 Q667.2,338.5999999999997 675.1,335.5999999999997 M659.3000000000001,337.74999999999966 Q667.2,340.74999999999966 675.1,337.74999999999966 M659.3000000000001,339.89999999999964 Q667.2,342.89999999999964 675.1,339.89999999999964 M659.3000000000001,342.0499999999996 Q667.2,345.0499999999996 675.1,342.0499999999996 M659.3000000000001,344.1999999999996 Q667.2,347.1999999999996 675.1,344.1999999999996 M659.3000000000001,346.34999999999957 Q667.2,349.34999999999957 675.1,346.34999999999957 M659.3000000000001,348.49999999999955 Q667.2,351.49999999999955 675.1,348.49999999999955 M659.3000000000001,350.6499999999995 Q667.2,353.6499999999995 675.1,350.6499999999995 M659.3000000000001,352.7999999999995 Q667.2,355.7999999999995 675.1,352.7999999999995 M659.3000000000001,354.9499999999995 Q667.2,357.9499999999995 675.1,354.9499999999995 M659.3000000000001,357.09999999999945 Q667.2,360.09999999999945 675.1,357.09999999999945 M659.3000000000001,359.24999999999943 Q667.2,362.24999999999943 675.1,359.24999999999943 M659.3000000000001,361.3999999999994 Q667.2,364.3999999999994 675.1,361.3999999999994 M659.3000000000001,363.5499999999994 Q667.2,366.5499999999994 675.1,363.5499999999994" fill="none" stroke="#5e5e5e" stroke-width="0.85"/>
<path d="M658.8000000000001,304.3 L658.8000000000001,363.0 Q658.8000000000001,365.5 661.8000000000001,365.5 L672.6,365.5 Q675.6,365.5 675.6,363.0 L675.6,304.3" fill="none" stroke="#3a3a3a" stroke-width="1.1"/>
<path d="M653.0,298.3 C653.0,291.3 660.2,288.3 667.2,288.3 C674.2,288.3 681.4000000000001,291.3 681.4000000000001,298.3 C681.4000000000001,302.3 676.2,306.0 667.2,306.0 C658.2,306.0 653.0,302.3 653.0,298.3 Z" fill="#fff" stroke="#3a3a3a" stroke-width="1.1"/>
<path d="M653.5,298.8 Q667.2,305.3 680.9000000000001,298.8" fill="none" stroke="#3a3a3a" stroke-width="0.9"/>
<ellipse cx="667.2" cy="292.5" rx="6.9" ry="2.9" fill="#fff" stroke="#3a3a3a" stroke-width="1"/>
<rect x="663.6" y="290.5" width="7.2" height="3.8" fill="#f4f4f4" stroke="#555" stroke-width="0.6"/>
<rect x="689.7" y="223.6" width="16.799999999999955" height="59.79999999999998" fill="#f0f0f0"/>
<path d="M690.2,224.79999999999998 Q698.1,227.79999999999998 706.0,224.79999999999998 M690.2,226.95 Q698.1,229.95 706.0,226.95 M690.2,229.1 Q698.1,232.1 706.0,229.1 M690.2,231.25 Q698.1,234.25 706.0,231.25 M690.2,233.4 Q698.1,236.4 706.0,233.4 M690.2,235.55 Q698.1,238.55 706.0,235.55 M690.2,237.70000000000002 Q698.1,240.70000000000002 706.0,237.70000000000002 M690.2,239.85000000000002 Q698.1,242.85000000000002 706.0,239.85000000000002 M690.2,242.00000000000003 Q698.1,245.00000000000003 706.0,242.00000000000003 M690.2,244.15000000000003 Q698.1,247.15000000000003 706.0,244.15000000000003 M690.2,246.30000000000004 Q698.1,249.30000000000004 706.0,246.30000000000004 M690.2,248.45000000000005 Q698.1,251.45000000000005 706.0,248.45000000000005 M690.2,250.60000000000005 Q698.1,253.60000000000005 706.0,250.60000000000005 M690.2,252.75000000000006 Q698.1,255.75000000000006 706.0,252.75000000000006 M690.2,254.90000000000006 Q698.1,257.9000000000001 706.0,254.90000000000006 M690.2,257.05000000000007 Q698.1,260.05000000000007 706.0,257.05000000000007 M690.2,259.20000000000005 Q698.1,262.20000000000005 706.0,259.20000000000005 M690.2,261.35 Q698.1,264.35 706.0,261.35 M690.2,263.5 Q698.1,266.5 706.0,263.5 M690.2,265.65 Q698.1,268.65 706.0,265.65 M690.2,267.79999999999995 Q698.1,270.79999999999995 706.0,267.79999999999995 M690.2,269.94999999999993 Q698.1,272.94999999999993 706.0,269.94999999999993 M690.2,272.0999999999999 Q698.1,275.0999999999999 706.0,272.0999999999999 M690.2,274.2499999999999 Q698.1,277.2499999999999 706.0,274.2499999999999 M690.2,276.39999999999986 Q698.1,279.39999999999986 706.0,276.39999999999986 M690.2,278.54999999999984 Q698.1,281.54999999999984 706.0,278.54999999999984 M690.2,280.6999999999998 Q698.1,283.6999999999998 706.0,280.6999999999998 M690.2,282.8499999999998 Q698.1,285.8499999999998 706.0,282.8499999999998" fill="none" stroke="#5e5e5e" stroke-width="0.85"/>
<path d="M689.7,223.6 L689.7,282.9 Q689.7,285.4 692.7,285.4 L703.5,285.4 Q706.5,285.4 706.5,282.9 L706.5,223.6" fill="none" stroke="#3a3a3a" stroke-width="1.1"/>
<path d="M683.9,217.6 C683.9,210.6 691.1,207.6 698.1,207.6 C705.1,207.6 712.3000000000001,210.6 712.3000000000001,217.6 C712.3000000000001,221.6 707.1,225.29999999999998 698.1,225.29999999999998 C689.1,225.29999999999998 683.9,221.6 683.9,217.6 Z" fill="#fff" stroke="#3a3a3a" stroke-width="1.1"/>
<path d="M684.4,218.1 Q698.1,224.6 711.8000000000001,218.1" fill="none" stroke="#3a3a3a" stroke-width="0.9"/>
<ellipse cx="698.1" cy="211.79999999999998" rx="6.9" ry="2.9" fill="#fff" stroke="#3a3a3a" stroke-width="1"/>
<rect x="694.5" y="209.79999999999998" width="7.2" height="3.8" fill="#f4f4f4" stroke="#555" stroke-width="0.6"/>
<rect x="689.7" y="304.3" width="16.799999999999955" height="59.19999999999999" fill="#f0f0f0"/>
<path d="M690.2,305.5 Q698.1,308.5 706.0,305.5 M690.2,307.65 Q698.1,310.65 706.0,307.65 M690.2,309.79999999999995 Q698.1,312.79999999999995 706.0,309.79999999999995 M690.2,311.94999999999993 Q698.1,314.94999999999993 706.0,311.94999999999993 M690.2,314.0999999999999 Q698.1,317.0999999999999 706.0,314.0999999999999 M690.2,316.2499999999999 Q698.1,319.2499999999999 706.0,316.2499999999999 M690.2,318.39999999999986 Q698.1,321.39999999999986 706.0,318.39999999999986 M690.2,320.54999999999984 Q698.1,323.54999999999984 706.0,320.54999999999984 M690.2,322.6999999999998 Q698.1,325.6999999999998 706.0,322.6999999999998 M690.2,324.8499999999998 Q698.1,327.8499999999998 706.0,324.8499999999998 M690.2,326.9999999999998 Q698.1,329.9999999999998 706.0,326.9999999999998 M690.2,329.14999999999975 Q698.1,332.14999999999975 706.0,329.14999999999975 M690.2,331.2999999999997 Q698.1,334.2999999999997 706.0,331.2999999999997 M690.2,333.4499999999997 Q698.1,336.4499999999997 706.0,333.4499999999997 M690.2,335.5999999999997 Q698.1,338.5999999999997 706.0,335.5999999999997 M690.2,337.74999999999966 Q698.1,340.74999999999966 706.0,337.74999999999966 M690.2,339.89999999999964 Q698.1,342.89999999999964 706.0,339.89999999999964 M690.2,342.0499999999996 Q698.1,345.0499999999996 706.0,342.0499999999996 M690.2,344.1999999999996 Q698.1,347.1999999999996 706.0,344.1999999999996 M690.2,346.34999999999957 Q698.1,349.34999999999957 706.0,346.34999999999957 M690.2,348.49999999999955 Q698.1,351.49999999999955 706.0,348.49999999999955 M690.2,350.6499999999995 Q698.1,353.6499999999995 706.0,350.6499999999995 M690.2,352.7999999999995 Q698.1,355.7999999999995 706.0,352.7999999999995 M690.2,354.9499999999995 Q698.1,357.9499999999995 706.0,354.9499999999995 M690.2,357.09999999999945 Q698.1,360.09999999999945 706.0,357.09999999999945 M690.2,359.24999999999943 Q698.1,362.24999999999943 706.0,359.24999999999943 M690.2,361.3999999999994 Q698.1,364.3999999999994 706.0,361.3999999999994 M690.2,363.5499999999994 Q698.1,366.5499999999994 706.0,363.5499999999994" fill="none" stroke="#5e5e5e" stroke-width="0.85"/>
<path d="M689.7,304.3 L689.7,363.0 Q689.7,365.5 692.7,365.5 L703.5,365.5 Q706.5,365.5 706.5,363.0 L706.5,304.3" fill="none" stroke="#3a3a3a" stroke-width="1.1"/>
<path d="M683.9,298.3 C683.9,291.3 691.1,288.3 698.1,288.3 C705.1,288.3 712.3000000000001,291.3 712.3000000000001,298.3 C712.3000000000001,302.3 707.1,306.0 698.1,306.0 C689.1,306.0 683.9,302.3 683.9,298.3 Z" fill="#fff" stroke="#3a3a3a" stroke-width="1.1"/>
<path d="M684.4,298.8 Q698.1,305.3 711.8000000000001,298.8" fill="none" stroke="#3a3a3a" stroke-width="0.9"/>
<ellipse cx="698.1" cy="292.5" rx="6.9" ry="2.9" fill="#fff" stroke="#3a3a3a" stroke-width="1"/>
<rect x="694.5" y="290.5" width="7.2" height="3.8" fill="#f4f4f4" stroke="#555" stroke-width="0.6"/>
<rect x="720.7" y="223.6" width="16.799999999999955" height="59.79999999999998" fill="#f0f0f0"/>
<path d="M721.2,224.79999999999998 Q729.1,227.79999999999998 737.0,224.79999999999998 M721.2,226.95 Q729.1,229.95 737.0,226.95 M721.2,229.1 Q729.1,232.1 737.0,229.1 M721.2,231.25 Q729.1,234.25 737.0,231.25 M721.2,233.4 Q729.1,236.4 737.0,233.4 M721.2,235.55 Q729.1,238.55 737.0,235.55 M721.2,237.70000000000002 Q729.1,240.70000000000002 737.0,237.70000000000002 M721.2,239.85000000000002 Q729.1,242.85000000000002 737.0,239.85000000000002 M721.2,242.00000000000003 Q729.1,245.00000000000003 737.0,242.00000000000003 M721.2,244.15000000000003 Q729.1,247.15000000000003 737.0,244.15000000000003 M721.2,246.30000000000004 Q729.1,249.30000000000004 737.0,246.30000000000004 M721.2,248.45000000000005 Q729.1,251.45000000000005 737.0,248.45000000000005 M721.2,250.60000000000005 Q729.1,253.60000000000005 737.0,250.60000000000005 M721.2,252.75000000000006 Q729.1,255.75000000000006 737.0,252.75000000000006 M721.2,254.90000000000006 Q729.1,257.9000000000001 737.0,254.90000000000006 M721.2,257.05000000000007 Q729.1,260.05000000000007 737.0,257.05000000000007 M721.2,259.20000000000005 Q729.1,262.20000000000005 737.0,259.20000000000005 M721.2,261.35 Q729.1,264.35 737.0,261.35 M721.2,263.5 Q729.1,266.5 737.0,263.5 M721.2,265.65 Q729.1,268.65 737.0,265.65 M721.2,267.79999999999995 Q729.1,270.79999999999995 737.0,267.79999999999995 M721.2,269.94999999999993 Q729.1,272.94999999999993 737.0,269.94999999999993 M721.2,272.0999999999999 Q729.1,275.0999999999999 737.0,272.0999999999999 M721.2,274.2499999999999 Q729.1,277.2499999999999 737.0,274.2499999999999 M721.2,276.39999999999986 Q729.1,279.39999999999986 737.0,276.39999999999986 M721.2,278.54999999999984 Q729.1,281.54999999999984 737.0,278.54999999999984 M721.2,280.6999999999998 Q729.1,283.6999999999998 737.0,280.6999999999998 M721.2,282.8499999999998 Q729.1,285.8499999999998 737.0,282.8499999999998" fill="none" stroke="#5e5e5e" stroke-width="0.85"/>
<path d="M720.7,223.6 L720.7,282.9 Q720.7,285.4 723.7,285.4 L734.5,285.4 Q737.5,285.4 737.5,282.9 L737.5,223.6" fill="none" stroke="#3a3a3a" stroke-width="1.1"/>
<path d="M714.9,217.6 C714.9,210.6 722.1,207.6 729.1,207.6 C736.1,207.6 743.3000000000001,210.6 743.3000000000001,217.6 C743.3000000000001,221.6 738.1,225.29999999999998 729.1,225.29999999999998 C720.1,225.29999999999998 714.9,221.6 714.9,217.6 Z" fill="#fff" stroke="#3a3a3a" stroke-width="1.1"/>
<path d="M715.4,218.1 Q729.1,224.6 742.8000000000001,218.1" fill="none" stroke="#3a3a3a" stroke-width="0.9"/>
<ellipse cx="729.1" cy="211.79999999999998" rx="6.9" ry="2.9" fill="#fff" stroke="#3a3a3a" stroke-width="1"/>
<rect x="725.5" y="209.79999999999998" width="7.2" height="3.8" fill="#f4f4f4" stroke="#555" stroke-width="0.6"/>
<rect x="720.7" y="304.3" width="16.799999999999955" height="59.19999999999999" fill="#f0f0f0"/>
<path d="M721.2,305.5 Q729.1,308.5 737.0,305.5 M721.2,307.65 Q729.1,310.65 737.0,307.65 M721.2,309.79999999999995 Q729.1,312.79999999999995 737.0,309.79999999999995 M721.2,311.94999999999993 Q729.1,314.94999999999993 737.0,311.94999999999993 M721.2,314.0999999999999 Q729.1,317.0999999999999 737.0,314.0999999999999 M721.2,316.2499999999999 Q729.1,319.2499999999999 737.0,316.2499999999999 M721.2,318.39999999999986 Q729.1,321.39999999999986 737.0,318.39999999999986 M721.2,320.54999999999984 Q729.1,323.54999999999984 737.0,320.54999999999984 M721.2,322.6999999999998 Q729.1,325.6999999999998 737.0,322.6999999999998 M721.2,324.8499999999998 Q729.1,327.8499999999998 737.0,324.8499999999998 M721.2,326.9999999999998 Q729.1,329.9999999999998 737.0,326.9999999999998 M721.2,329.14999999999975 Q729.1,332.14999999999975 737.0,329.14999999999975 M721.2,331.2999999999997 Q729.1,334.2999999999997 737.0,331.2999999999997 M721.2,333.4499999999997 Q729.1,336.4499999999997 737.0,333.4499999999997 M721.2,335.5999999999997 Q729.1,338.5999999999997 737.0,335.5999999999997 M721.2,337.74999999999966 Q729.1,340.74999999999966 737.0,337.74999999999966 M721.2,339.89999999999964 Q729.1,342.89999999999964 737.0,339.89999999999964 M721.2,342.0499999999996 Q729.1,345.0499999999996 737.0,342.0499999999996 M721.2,344.1999999999996 Q729.1,347.1999999999996 737.0,344.1999999999996 M721.2,346.34999999999957 Q729.1,349.34999999999957 737.0,346.34999999999957 M721.2,348.49999999999955 Q729.1,351.49999999999955 737.0,348.49999999999955 M721.2,350.6499999999995 Q729.1,353.6499999999995 737.0,350.6499999999995 M721.2,352.7999999999995 Q729.1,355.7999999999995 737.0,352.7999999999995 M721.2,354.9499999999995 Q729.1,357.9499999999995 737.0,354.9499999999995 M721.2,357.09999999999945 Q729.1,360.09999999999945 737.0,357.09999999999945 M721.2,359.24999999999943 Q729.1,362.24999999999943 737.0,359.24999999999943 M721.2,361.3999999999994 Q729.1,364.3999999999994 737.0,361.3999999999994 M721.2,363.5499999999994 Q729.1,366.5499999999994 737.0,363.5499999999994" fill="none" stroke="#5e5e5e" stroke-width="0.85"/>
<path d="M720.7,304.3 L720.7,363.0 Q720.7,365.5 723.7,365.5 L734.5,365.5 Q737.5,365.5 737.5,363.0 L737.5,304.3" fill="none" stroke="#3a3a3a" stroke-width="1.1"/>
<path d="M714.9,298.3 C714.9,291.3 722.1,288.3 729.1,288.3 C736.1,288.3 743.3000000000001,291.3 743.3000000000001,298.3 C743.3000000000001,302.3 738.1,306.0 729.1,306.0 C720.1,306.0 714.9,302.3 714.9,298.3 Z" fill="#fff" stroke="#3a3a3a" stroke-width="1.1"/>
<path d="M715.4,298.8 Q729.1,305.3 742.8000000000001,298.8" fill="none" stroke="#3a3a3a" stroke-width="0.9"/>
<ellipse cx="729.1" cy="292.5" rx="6.9" ry="2.9" fill="#fff" stroke="#3a3a3a" stroke-width="1"/>
<rect x="725.5" y="290.5" width="7.2" height="3.8" fill="#f4f4f4" stroke="#555" stroke-width="0.6"/>
<rect x="752.0" y="223.6" width="16.799999999999955" height="59.79999999999998" fill="#f0f0f0"/>
<path d="M752.5,224.79999999999998 Q760.4,227.79999999999998 768.3,224.79999999999998 M752.5,226.95 Q760.4,229.95 768.3,226.95 M752.5,229.1 Q760.4,232.1 768.3,229.1 M752.5,231.25 Q760.4,234.25 768.3,231.25 M752.5,233.4 Q760.4,236.4 768.3,233.4 M752.5,235.55 Q760.4,238.55 768.3,235.55 M752.5,237.70000000000002 Q760.4,240.70000000000002 768.3,237.70000000000002 M752.5,239.85000000000002 Q760.4,242.85000000000002 768.3,239.85000000000002 M752.5,242.00000000000003 Q760.4,245.00000000000003 768.3,242.00000000000003 M752.5,244.15000000000003 Q760.4,247.15000000000003 768.3,244.15000000000003 M752.5,246.30000000000004 Q760.4,249.30000000000004 768.3,246.30000000000004 M752.5,248.45000000000005 Q760.4,251.45000000000005 768.3,248.45000000000005 M752.5,250.60000000000005 Q760.4,253.60000000000005 768.3,250.60000000000005 M752.5,252.75000000000006 Q760.4,255.75000000000006 768.3,252.75000000000006 M752.5,254.90000000000006 Q760.4,257.9000000000001 768.3,254.90000000000006 M752.5,257.05000000000007 Q760.4,260.05000000000007 768.3,257.05000000000007 M752.5,259.20000000000005 Q760.4,262.20000000000005 768.3,259.20000000000005 M752.5,261.35 Q760.4,264.35 768.3,261.35 M752.5,263.5 Q760.4,266.5 768.3,263.5 M752.5,265.65 Q760.4,268.65 768.3,265.65 M752.5,267.79999999999995 Q760.4,270.79999999999995 768.3,267.79999999999995 M752.5,269.94999999999993 Q760.4,272.94999999999993 768.3,269.94999999999993 M752.5,272.0999999999999 Q760.4,275.0999999999999 768.3,272.0999999999999 M752.5,274.2499999999999 Q760.4,277.2499999999999 768.3,274.2499999999999 M752.5,276.39999999999986 Q760.4,279.39999999999986 768.3,276.39999999999986 M752.5,278.54999999999984 Q760.4,281.54999999999984 768.3,278.54999999999984 M752.5,280.6999999999998 Q760.4,283.6999999999998 768.3,280.6999999999998 M752.5,282.8499999999998 Q760.4,285.8499999999998 768.3,282.8499999999998" fill="none" stroke="#5e5e5e" stroke-width="0.85"/>
<path d="M752.0,223.6 L752.0,282.9 Q752.0,285.4 755.0,285.4 L765.8,285.4 Q768.8,285.4 768.8,282.9 L768.8,223.6" fill="none" stroke="#3a3a3a" stroke-width="1.1"/>
<path d="M746.1999999999999,217.6 C746.1999999999999,210.6 753.4,207.6 760.4,207.6 C767.4,207.6 774.6,210.6 774.6,217.6 C774.6,221.6 769.4,225.29999999999998 760.4,225.29999999999998 C751.4,225.29999999999998 746.1999999999999,221.6 746.1999999999999,217.6 Z" fill="#fff" stroke="#3a3a3a" stroke-width="1.1"/>
<path d="M746.6999999999999,218.1 Q760.4,224.6 774.1,218.1" fill="none" stroke="#3a3a3a" stroke-width="0.9"/>
<ellipse cx="760.4" cy="211.79999999999998" rx="6.9" ry="2.9" fill="#fff" stroke="#3a3a3a" stroke-width="1"/>
<rect x="756.8" y="209.79999999999998" width="7.2" height="3.8" fill="#f4f4f4" stroke="#555" stroke-width="0.6"/>
<rect x="752.0" y="304.3" width="16.799999999999955" height="59.19999999999999" fill="#f0f0f0"/>
<path d="M752.5,305.5 Q760.4,308.5 768.3,305.5 M752.5,307.65 Q760.4,310.65 768.3,307.65 M752.5,309.79999999999995 Q760.4,312.79999999999995 768.3,309.79999999999995 M752.5,311.94999999999993 Q760.4,314.94999999999993 768.3,311.94999999999993 M752.5,314.0999999999999 Q760.4,317.0999999999999 768.3,314.0999999999999 M752.5,316.2499999999999 Q760.4,319.2499999999999 768.3,316.2499999999999 M752.5,318.39999999999986 Q760.4,321.39999999999986 768.3,318.39999999999986 M752.5,320.54999999999984 Q760.4,323.54999999999984 768.3,320.54999999999984 M752.5,322.6999999999998 Q760.4,325.6999999999998 768.3,322.6999999999998 M752.5,324.8499999999998 Q760.4,327.8499999999998 768.3,324.8499999999998 M752.5,326.9999999999998 Q760.4,329.9999999999998 768.3,326.9999999999998 M752.5,329.14999999999975 Q760.4,332.14999999999975 768.3,329.14999999999975 M752.5,331.2999999999997 Q760.4,334.2999999999997 768.3,331.2999999999997 M752.5,333.4499999999997 Q760.4,336.4499999999997 768.3,333.4499999999997 M752.5,335.5999999999997 Q760.4,338.5999999999997 768.3,335.5999999999997 M752.5,337.74999999999966 Q760.4,340.74999999999966 768.3,337.74999999999966 M752.5,339.89999999999964 Q760.4,342.89999999999964 768.3,339.89999999999964 M752.5,342.0499999999996 Q760.4,345.0499999999996 768.3,342.0499999999996 M752.5,344.1999999999996 Q760.4,347.1999999999996 768.3,344.1999999999996 M752.5,346.34999999999957 Q760.4,349.34999999999957 768.3,346.34999999999957 M752.5,348.49999999999955 Q760.4,351.49999999999955 768.3,348.49999999999955 M752.5,350.6499999999995 Q760.4,353.6499999999995 768.3,350.6499999999995 M752.5,352.7999999999995 Q760.4,355.7999999999995 768.3,352.7999999999995 M752.5,354.9499999999995 Q760.4,357.9499999999995 768.3,354.9499999999995 M752.5,357.09999999999945 Q760.4,360.09999999999945 768.3,357.09999999999945 M752.5,359.24999999999943 Q760.4,362.24999999999943 768.3,359.24999999999943 M752.5,361.3999999999994 Q760.4,364.3999999999994 768.3,361.3999999999994 M752.5,363.5499999999994 Q760.4,366.5499999999994 768.3,363.5499999999994" fill="none" stroke="#5e5e5e" stroke-width="0.85"/>
<path d="M752.0,304.3 L752.0,363.0 Q752.0,365.5 755.0,365.5 L765.8,365.5 Q768.8,365.5 768.8,363.0 L768.8,304.3" fill="none" stroke="#3a3a3a" stroke-width="1.1"/>
<path d="M746.1999999999999,298.3 C746.1999999999999,291.3 753.4,288.3 760.4,288.3 C767.4,288.3 774.6,291.3 774.6,298.3 C774.6,302.3 769.4,306.0 760.4,306.0 C751.4,306.0 746.1999999999999,302.3 746.1999999999999,298.3 Z" fill="#fff" stroke="#3a3a3a" stroke-width="1.1"/>
<path d="M746.6999999999999,298.8 Q760.4,305.3 774.1,298.8" fill="none" stroke="#3a3a3a" stroke-width="0.9"/>
<ellipse cx="760.4" cy="292.5" rx="6.9" ry="2.9" fill="#fff" stroke="#3a3a3a" stroke-width="1"/>
<rect x="756.8" y="290.5" width="7.2" height="3.8" fill="#f4f4f4" stroke="#555" stroke-width="0.6"/>
<g id="labels">
<text class="lb" transform="translate(170.5,217.0) scale(0.6,1)" font-size="17" textLength="308.4" lengthAdjust="spacing">PL06421CAMDXV/PL06421CAMSXV</text>
<text class="lb" transform="translate(455.6,176.2) scale(0.6,1)" font-size="16.7" textLength="89.6" lengthAdjust="spacing">GNB2928V</text>
<text class="lb" transform="translate(619.8,123.4) scale(0.6,1)" font-size="17" textLength="205.1" lengthAdjust="spacing">GL5274DXV/GL5274SXV</text>
<text class="lb" transform="translate(63.1,399.8) scale(0.6,1)" font-size="16.4" textLength="203.8" lengthAdjust="spacing">GL5275DXV/GL5275SXV</text>
<text class="lb" transform="translate(307.5,344.4) scale(0.6,1)" font-size="16.4" textLength="89.6" lengthAdjust="spacing">M8x20mm</text>
<text class="lb" transform="translate(476.9,373.8) scale(0.6,1)" font-size="16" textLength="88.6" lengthAdjust="spacing">M8x40mm</text>
<text class="lb" transform="translate(632.5,393.5) scale(0.6,1)" font-size="16.8" textLength="89.6" lengthAdjust="spacing">M8x25mm</text>
<text class="lb" transform="translate(46.3,536.9) scale(0.6,1)" font-size="14.5" textLength="91.7" lengthAdjust="spacing">Hole Ø8mm/</text>
<text class="lb" transform="translate(46.3,553.8) scale(0.6,1)" font-size="14.5" textLength="133.4" lengthAdjust="spacing">External Ø14mm/</text>
<text class="lb" transform="translate(46.3,570.6) scale(0.6,1)" font-size="14.5" textLength="68.8" lengthAdjust="spacing">D.0,3mm</text>
<text class="lb" transform="translate(242.5,615.8) scale(0.6,1)" font-size="14.8" textLength="91.0" lengthAdjust="spacing">Hole Ø8mm/</text>
<text class="lb" transform="translate(524.0,604.8) scale(0.6,1)" font-size="16.9" textLength="24.9" lengthAdjust="spacing">M8</text>
<text class="lb" transform="translate(728.0,567.5) scale(0.6,1)" font-size="16.7" textLength="55.1" lengthAdjust="spacing">13COP</text>
</g>
<g id="nums">
<circle class="cir" cx="28" cy="61.5" r="10.3"/><text class="num" x="28" y="67.0">1</text>
<circle class="cir" cx="448" cy="62" r="10.3"/><text class="num" x="448" y="67.5">2</text>
<circle class="cir" cx="572" cy="61.7" r="10.3"/><text class="num" x="572" y="67.2">3</text>
<circle class="cir" cx="23.9" cy="290.6" r="10.3"/><text class="num" x="23.9" y="296.1">4</text>
<circle class="cir" cx="235.1" cy="290.6" r="10.3"/><text class="num" x="235.1" y="296.1">5</text>
<circle class="cir" cx="432.9" cy="290.3" r="10.3"/><text class="num" x="432.9" y="295.8">6</text>
<circle class="cir" cx="578.4" cy="290.3" r="10.3"/><text class="num" x="578.4" y="295.8">7</text>
<circle class="cir" cx="29.2" cy="501.5" r="10.3"/><text class="num" x="29.2" y="507.0">8</text>
<circle class="cir" cx="134.8" cy="501.5" r="10.3"/><text class="num" x="134.8" y="507.0">9</text>
<circle class="cir" cx="434.9" cy="502" r="10.3"/><text class="num" x="434.9" y="507.5" textLength="15" lengthAdjust="spacingAndGlyphs">10</text>
<circle class="cir" cx="671.6" cy="502" r="10.3"/><text class="num" x="671.6" y="507.5" textLength="15" lengthAdjust="spacingAndGlyphs">11</text>
</g>
</svg>
</body></html>
